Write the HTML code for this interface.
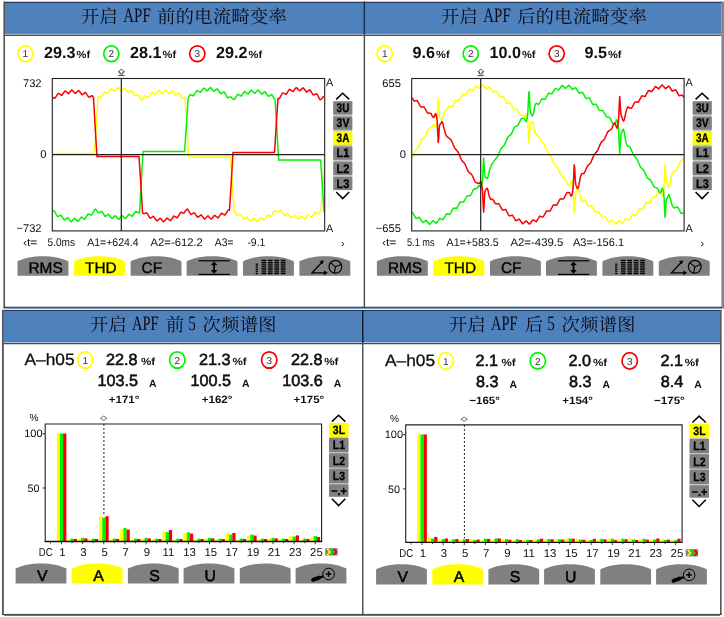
<!DOCTYPE html>
<html lang="zh-CN">
<head>
<meta charset="utf-8">
<title>APF 电流畸变率与频谱图</title>
<style>
html,body{margin:0;padding:0;background:#fff;}
body{width:724px;height:617px;overflow:hidden;font-family:"Liberation Sans", "Noto Sans CJK SC", sans-serif;}
svg{display:block;will-change:transform;-webkit-font-smoothing:antialiased;}
text{-webkit-font-smoothing:antialiased;}
</style>
</head>
<body>
<svg width="724" height="617" viewBox="0 0 724 617" font-family='"Liberation Sans", "Noto Sans CJK SC", sans-serif' text-rendering="geometricPrecision">
<defs>
<clipPath id="cbefore"><rect x="52.3" y="78.5" width="272.4" height="152.4"/></clipPath>
<clipPath id="cafter"><rect x="411.7" y="78.5" width="272.4" height="152.4"/></clipPath>
</defs>
<rect x="0" y="0" width="724" height="617" fill="#ffffff"/>
<rect x="5" y="2" width="716.5" height="32.3" fill="#4f81bd"/>
<line x1="4" y1="2.2" x2="722" y2="2.2" stroke="#1a2840" stroke-width="1.1"/>
<line x1="5" y1="34.4" x2="721.5" y2="34.4" stroke="#b9cde5" stroke-width="0.8"/>
<line x1="4" y1="35.3" x2="721.5" y2="35.3" stroke="#4a4a4a" stroke-width="1.2"/>
<rect x="3.4" y="1.5" width="1.6" height="307" fill="#555555"/>
<rect x="363.6" y="1.5" width="1.5" height="33" fill="#1f3252"/>
<rect x="363.6" y="34.5" width="1.5" height="273" fill="#555555"/>
<rect x="721.4" y="1.5" width="2.6" height="307" fill="#858585"/>
<line x1="4" y1="307.3" x2="722" y2="307.3" stroke="#16243c" stroke-width="1.3"/>
<line x1="5" y1="308.2" x2="722" y2="308.2" stroke="#4f81bd" stroke-width="1.2"/>
<rect x="3.5" y="310.6" width="716.5" height="32" fill="#4f81bd"/>
<line x1="2" y1="310.4" x2="721.5" y2="310.4" stroke="#1f2a3a" stroke-width="1"/>
<line x1="4" y1="342.7" x2="720" y2="342.7" stroke="#b9cde5" stroke-width="0.8"/>
<line x1="2" y1="343.7" x2="721.5" y2="343.7" stroke="#4a4a4a" stroke-width="1.2"/>
<rect x="2" y="310" width="1.8" height="305" fill="#555555"/>
<rect x="362" y="310" width="1.5" height="33" fill="#14202f"/>
<rect x="362" y="343" width="1.5" height="271" fill="#555555"/>
<rect x="720" y="310" width="1.6" height="305" fill="#555555"/>
<line x1="2" y1="614.4" x2="721.6" y2="614.4" stroke="#3c3c3c" stroke-width="1"/>
<line x1="3.8" y1="615.4" x2="720" y2="615.4" stroke="#3f68a0" stroke-width="1"/>
<text x="81" y="22.8" font-size="18.2" fill="#0a0a12" textLength="36.6" lengthAdjust="spacing" font-family='"Liberation Serif", "Noto Serif CJK SC", serif'>开启</text>
<text x="123.3" y="22.4" font-size="20.5" fill="#0a0a12" textLength="27.4" lengthAdjust="spacingAndGlyphs" font-family='"Liberation Serif", "Noto Serif CJK SC", serif'>APF</text>
<text x="157.2" y="22.8" font-size="18.2" fill="#0a0a12" textLength="129.6" lengthAdjust="spacing" font-family='"Liberation Serif", "Noto Serif CJK SC", serif'>前的电流畸变率</text>
<ellipse cx="25.4" cy="53.8" rx="7.6" ry="7.9" fill="#ffffff" stroke="#ffff00" stroke-width="1.7"/>
<text x="25.4" y="57.4" font-size="10" fill="#303030" text-anchor="middle">1</text>
<text x="75.6" y="58" font-size="16.2" fill="#101010" text-anchor="end" font-weight="bold">29.3</text>
<text x="76.6" y="58" font-size="10.5" fill="#101010" textLength="13.6" lengthAdjust="spacingAndGlyphs" font-weight="bold">%f</text>
<ellipse cx="111.35" cy="53.8" rx="7.6" ry="7.9" fill="#ffffff" stroke="#00f400" stroke-width="1.7"/>
<text x="111.35" y="57.4" font-size="10" fill="#303030" text-anchor="middle">2</text>
<text x="161.55" y="58" font-size="16.2" fill="#101010" text-anchor="end" font-weight="bold">28.1</text>
<text x="162.55" y="58" font-size="10.5" fill="#101010" textLength="13.6" lengthAdjust="spacingAndGlyphs" font-weight="bold">%f</text>
<ellipse cx="197.3" cy="53.8" rx="7.6" ry="7.9" fill="#ffffff" stroke="#fa0000" stroke-width="1.7"/>
<text x="197.3" y="57.4" font-size="10" fill="#303030" text-anchor="middle">3</text>
<text x="247.5" y="58" font-size="16.2" fill="#101010" text-anchor="end" font-weight="bold">29.2</text>
<text x="248.5" y="58" font-size="10.5" fill="#101010" textLength="13.6" lengthAdjust="spacingAndGlyphs" font-weight="bold">%f</text>
<g clip-path="url(#cbefore)">
<polyline points="53.6,153.6 54.1,153.6 54.6,153.6 55.1,153.6 55.6,153.6 56.1,153.6 56.6,153.6 57.1,153.6 57.6,153.6 58.1,153.6 58.6,153.6 59.1,153.6 59.6,153.6 60.1,153.6 60.6,153.6 61.1,153.6 61.6,153.6 62.1,153.6 62.6,153.6 63.1,153.6 63.6,153.6 64.1,153.6 64.6,153.6 65.1,153.6 65.6,153.6 66.1,153.6 66.6,153.6 67.1,153.6 67.6,153.6 68.1,153.6 68.6,153.6 69.1,153.6 69.6,153.6 70.1,153.6 70.6,153.6 71.1,153.6 71.6,153.6 72.1,153.6 72.6,153.6 73.1,153.6 73.6,153.6 74.1,153.6 74.6,153.6 75.1,153.6 75.6,153.6 76.1,153.6 76.6,153.6 77.1,153.6 77.6,153.6 78.1,153.6 78.6,153.6 79.1,153.6 79.6,153.6 80.1,153.6 80.6,153.6 81.1,153.6 81.6,153.6 82.1,153.6 82.6,153.6 83.1,153.6 83.6,153.6 84.1,153.6 84.6,153.6 85.1,153.6 85.6,153.6 86.1,153.6 86.6,153.6 87.1,153.6 87.6,153.6 88.1,153.6 88.6,153.6 89.1,153.6 89.6,153.6 90.1,153.6 90.6,153.6 91.1,153.6 91.6,153.6 92.1,153.6 92.6,153.6 93.1,153.6 93.6,153.6 94.1,153.6 94.6,153.6 95.1,146.0 95.6,138.1 96.1,130.0 96.6,121.8 97.1,113.3 97.6,104.8 98.1,97.0 98.6,97.1 99.1,97.2 99.6,97.3 100.1,97.5 100.6,97.6 101.1,97.3 101.6,96.4 102.1,95.5 102.6,94.7 103.1,93.8 103.6,93.0 104.1,92.2 104.6,92.1 105.1,92.3 105.6,92.6 106.1,92.8 106.6,93.1 107.1,93.4 107.6,93.7 108.1,93.0 108.6,92.3 109.1,91.5 109.6,90.8 110.1,90.1 110.6,89.4 111.1,88.8 111.6,89.1 112.1,89.5 112.6,89.9 113.1,90.3 113.6,90.7 114.1,91.1 114.6,91.2 115.1,90.6 115.6,90.0 116.1,89.4 116.6,88.8 117.1,88.2 117.6,87.7 118.1,87.6 118.6,88.1 119.1,88.6 119.6,89.2 120.1,89.7 120.6,90.3 121.1,90.8 121.6,90.7 122.1,90.2 122.6,89.8 123.1,89.3 123.6,88.9 124.1,88.4 124.6,88.0 125.1,88.5 125.6,89.2 126.1,89.9 126.6,90.5 127.1,91.2 127.6,91.9 128.1,92.6 128.6,92.2 129.1,91.9 129.6,91.6 130.1,91.3 130.6,91.0 131.1,90.7 131.6,90.7 132.1,91.5 132.6,92.3 133.1,93.1 133.6,93.9 134.1,94.7 134.6,95.5 135.1,95.8 135.6,95.6 136.1,95.4 136.6,95.2 137.1,95.1 137.6,94.9 138.1,94.7 138.6,95.3 139.1,96.2 139.6,97.1 140.1,98.1 140.6,99.0 141.1,99.8 141.6,100.5 142.1,100.1 142.6,99.5 143.1,98.8 143.6,98.0 144.1,97.2 144.6,96.3 145.1,95.6 145.6,95.8 146.1,96.1 146.6,96.4 147.1,96.6 147.6,96.9 148.1,97.2 148.6,97.2 149.1,96.4 149.6,95.7 150.1,94.9 150.6,94.2 151.1,93.4 151.6,92.7 152.1,92.5 152.6,92.8 153.1,93.2 153.6,93.5 154.1,93.9 154.6,94.3 155.1,94.6 155.6,94.3 156.1,93.6 156.6,93.0 157.1,92.3 157.6,91.7 158.1,91.1 158.6,90.4 159.1,90.7 159.6,91.2 160.1,91.6 160.6,92.1 161.1,92.6 161.6,93.1 162.1,93.5 162.6,92.9 163.1,92.3 163.6,91.8 164.1,91.3 164.6,90.7 165.1,90.2 165.6,90.0 166.1,90.5 166.6,91.1 167.1,91.7 167.6,92.2 168.1,92.8 168.6,93.4 169.1,93.5 169.6,93.1 170.1,92.6 170.6,92.2 171.1,91.8 171.6,91.3 172.1,90.9 172.6,91.3 173.1,91.9 173.6,92.6 174.1,93.3 174.6,94.0 175.1,94.6 175.6,95.3 176.1,95.1 176.6,94.8 177.1,94.4 177.6,94.1 178.1,93.8 178.6,93.5 179.1,93.2 179.6,94.0 180.1,94.8 180.6,95.5 181.1,96.3 181.6,97.1 182.1,97.9 182.6,98.4 183.1,98.1 183.6,97.9 184.1,97.6 184.6,97.4 185.1,97.2 185.6,105.4 186.1,114.1 186.6,123.1 187.1,131.9 187.6,140.5 188.1,148.9 188.6,157.1 189.1,157.1 189.6,157.1 190.1,157.1 190.6,157.1 191.1,157.1 191.6,157.1 192.1,157.1 192.6,157.1 193.1,157.1 193.6,157.1 194.1,157.1 194.6,157.1 195.1,157.1 195.6,157.1 196.1,157.1 196.6,157.1 197.1,157.1 197.6,157.1 198.1,157.1 198.6,157.1 199.1,157.1 199.6,157.1 200.1,157.1 200.6,157.1 201.1,157.1 201.6,157.1 202.1,157.1 202.6,157.1 203.1,157.1 203.6,157.1 204.1,157.1 204.6,157.1 205.1,157.1 205.6,157.1 206.1,157.1 206.6,157.1 207.1,157.1 207.6,157.1 208.1,157.1 208.6,157.1 209.1,157.1 209.6,157.1 210.1,157.1 210.6,157.1 211.1,157.1 211.6,157.1 212.1,157.1 212.6,157.1 213.1,157.1 213.6,157.1 214.1,157.1 214.6,157.1 215.1,157.1 215.6,157.1 216.1,157.1 216.6,157.1 217.1,157.1 217.6,157.1 218.1,157.1 218.6,157.1 219.1,157.1 219.6,157.1 220.1,157.1 220.6,157.1 221.1,157.1 221.6,157.1 222.1,157.1 222.6,157.1 223.1,157.1 223.6,157.1 224.1,157.1 224.6,157.1 225.1,157.1 225.6,157.1 226.1,157.1 226.6,157.1 227.1,157.1 227.6,157.1 228.1,157.1 228.6,157.1 229.1,157.1 229.6,157.1 230.1,157.1 230.6,157.1 231.1,164.8 231.6,172.3 232.1,179.8 232.6,187.2 233.1,194.6 233.6,202.0 234.1,210.2 234.6,211.2 235.1,212.1 235.6,213.0 236.1,213.9 236.6,214.8 237.1,215.2 237.6,215.0 238.1,214.8 238.6,214.6 239.1,214.4 239.6,214.2 240.1,213.9 240.6,214.4 241.1,215.2 241.6,216.0 242.1,216.8 242.6,217.6 243.1,218.4 243.6,219.1 244.1,219.0 244.6,218.7 245.1,218.3 245.6,218.0 246.1,217.7 246.6,217.3 247.1,217.0 247.6,217.7 248.1,218.4 248.6,219.1 249.1,219.7 249.6,220.4 250.1,221.0 250.6,221.3 251.1,220.9 251.6,220.4 252.1,220.0 252.6,219.5 253.1,219.0 253.6,218.5 254.1,218.5 254.6,219.1 255.1,219.6 255.6,220.1 256.1,220.6 256.6,221.1 257.1,221.6 257.6,221.4 258.1,220.8 258.6,220.2 259.1,219.6 259.6,218.9 260.1,218.3 260.6,217.6 261.1,217.9 261.6,218.3 262.1,218.7 262.6,219.1 263.1,219.4 263.6,219.8 264.1,220.0 264.6,219.3 265.1,218.6 265.6,217.8 266.1,217.1 266.6,216.3 267.1,215.6 267.6,215.1 268.1,215.3 268.6,215.6 269.1,215.8 269.6,216.1 270.1,216.3 270.6,216.5 271.1,216.3 271.6,215.4 272.1,214.5 272.6,213.7 273.1,212.8 273.6,211.9 274.1,211.0 274.6,210.8 275.1,210.9 275.6,211.1 276.1,211.2 276.6,211.4 277.1,211.7 277.6,212.2 278.1,211.8 278.6,211.4 279.1,211.1 279.6,210.9 280.1,210.7 280.6,210.4 281.1,210.3 281.6,211.1 282.1,211.9 282.6,212.7 283.1,213.5 283.6,214.2 284.1,215.0 284.6,215.5 285.1,215.2 285.6,214.9 286.1,214.6 286.6,214.2 287.1,213.9 287.6,213.6 288.1,213.7 288.6,214.5 289.1,215.2 289.6,215.9 290.1,216.5 290.6,217.2 291.1,217.9 291.6,217.9 292.1,217.5 292.6,217.0 293.1,216.6 293.6,216.2 294.1,215.8 294.6,215.4 295.1,215.8 295.6,216.4 296.1,217.0 296.6,217.6 297.1,218.2 297.6,218.8 298.1,219.3 298.6,218.8 299.1,218.3 299.6,217.7 300.1,217.2 300.6,216.7 301.1,216.1 301.6,215.9 302.1,216.4 302.6,216.9 303.1,217.4 303.6,217.9 304.1,218.3 304.6,218.8 305.1,218.7 305.6,218.1 306.1,217.5 306.6,216.9 307.1,216.2 307.6,215.6 308.1,214.9 308.6,215.0 309.1,215.4 309.6,215.8 310.1,216.1 310.6,216.5 311.1,216.9 311.6,217.2 312.1,216.6 312.6,215.9 313.1,215.2 313.6,214.5 314.1,213.7 314.6,213.0 315.1,212.3 315.6,212.6 316.1,212.9 316.6,213.2 317.1,213.5 317.6,213.7 318.1,214.0 318.6,214.0 319.1,213.2 319.6,212.4 320.1,211.5 320.6,210.7 321.1,209.8 321.6,201.2 322.1,193.1 322.6,185.4 323.1,177.6 323.6,169.7 324.1,161.7 324.6,153.6 325.1,153.6" fill="none" stroke="#ffff00" stroke-width="1.5" stroke-linejoin="round"/>
<polyline points="53.1,211.0 53.6,210.9 54.1,210.7 54.6,211.6 55.1,212.5 55.6,213.4 56.1,214.3 56.6,215.1 57.1,216.0 57.6,216.6 58.1,216.4 58.6,216.2 59.1,216.0 59.6,215.7 60.1,215.5 60.6,215.2 61.1,215.3 61.6,216.1 62.1,216.8 62.6,217.6 63.1,218.3 63.6,219.1 64.1,219.8 64.6,219.9 65.1,219.6 65.6,219.2 66.1,218.8 66.6,218.5 67.1,218.1 67.6,217.7 68.1,218.1 68.6,218.7 69.1,219.3 69.6,220.0 70.1,220.6 70.6,221.2 71.1,221.7 71.6,221.3 72.1,220.8 72.6,220.3 73.1,219.8 73.6,219.3 74.1,218.7 74.6,218.3 75.1,218.8 75.6,219.3 76.1,219.8 76.6,220.3 77.1,220.7 77.6,221.2 78.1,221.2 78.6,220.6 79.1,219.9 79.6,219.3 80.1,218.6 80.6,218.0 81.1,217.3 81.6,217.2 82.1,217.5 82.6,217.9 83.1,218.2 83.6,218.5 84.1,218.8 84.6,219.2 85.1,218.6 85.6,217.9 86.1,217.1 86.6,216.3 87.1,215.5 87.6,214.7 88.1,213.9 88.6,214.1 89.1,214.3 89.6,214.5 90.1,214.7 90.6,214.9 91.1,215.1 91.6,215.1 92.1,214.2 92.6,213.3 93.1,212.4 93.6,211.5 94.1,210.6 94.6,209.6 95.1,209.1 95.6,209.4 96.1,209.9 96.6,210.4 97.1,211.0 97.6,211.8 98.1,212.6 98.6,212.9 99.1,212.7 99.6,212.4 100.1,212.2 100.6,211.9 101.1,211.7 101.6,211.4 102.1,211.9 102.6,212.7 103.1,213.5 103.6,214.2 104.1,215.0 104.6,215.7 105.1,216.5 105.6,216.2 106.1,215.8 106.6,215.5 107.1,215.1 107.6,214.8 108.1,214.4 108.6,214.2 109.1,214.9 109.6,215.6 110.1,216.3 110.6,216.9 111.1,217.6 111.6,218.2 112.1,218.5 112.6,218.1 113.1,217.6 113.6,217.2 114.1,216.7 114.6,216.3 115.1,215.8 115.6,215.9 116.1,216.5 116.6,217.1 117.1,217.6 117.6,218.2 118.1,218.7 118.6,219.3 119.1,219.0 119.6,218.4 120.1,217.9 120.6,217.3 121.1,216.8 121.6,216.2 122.1,215.6 122.6,216.0 123.1,216.5 123.6,217.0 124.1,217.4 124.6,217.8 125.1,218.3 125.6,218.5 126.1,217.9 126.6,217.2 127.1,216.6 127.6,215.9 128.1,215.2 128.6,214.5 129.1,214.2 129.6,214.6 130.1,215.0 130.6,215.3 131.1,215.6 131.6,216.0 132.1,216.3 132.6,216.0 133.1,215.3 133.6,214.5 134.1,213.8 134.6,213.0 135.1,212.3 135.6,211.5 136.1,211.5 136.6,211.8 137.1,212.0 137.6,212.3 138.1,212.5 138.6,212.7 139.1,213.0 139.6,212.2 140.1,202.9 140.6,193.9 141.1,185.0 141.6,176.4 142.1,167.9 142.6,159.7 143.1,151.6 143.6,151.6 144.1,151.6 144.6,151.6 145.1,151.6 145.6,151.6 146.1,151.6 146.6,151.6 147.1,151.6 147.6,151.6 148.1,151.6 148.6,151.6 149.1,151.6 149.6,151.6 150.1,151.6 150.6,151.6 151.1,151.6 151.6,151.6 152.1,151.6 152.6,151.6 153.1,151.6 153.6,151.6 154.1,151.6 154.6,151.6 155.1,151.6 155.6,151.6 156.1,151.6 156.6,151.6 157.1,151.6 157.6,151.6 158.1,151.6 158.6,151.6 159.1,151.6 159.6,151.6 160.1,151.6 160.6,151.6 161.1,151.6 161.6,151.6 162.1,151.6 162.6,151.6 163.1,151.6 163.6,151.6 164.1,151.6 164.6,151.6 165.1,151.6 165.6,151.6 166.1,151.6 166.6,151.6 167.1,151.6 167.6,151.6 168.1,151.6 168.6,151.6 169.1,151.6 169.6,151.6 170.1,151.6 170.6,151.6 171.1,151.6 171.6,151.6 172.1,151.6 172.6,151.6 173.1,151.6 173.6,151.6 174.1,151.6 174.6,151.6 175.1,151.6 175.6,151.6 176.1,151.6 176.6,151.6 177.1,151.6 177.6,151.6 178.1,151.6 178.6,151.6 179.1,151.6 179.6,151.6 180.1,151.6 180.6,151.6 181.1,151.6 181.6,151.6 182.1,151.6 182.6,151.6 183.1,151.6 183.6,151.6 184.1,151.6 184.6,151.6 185.1,144.2 185.6,136.8 186.1,129.5 186.6,122.3 187.1,114.7 187.6,106.6 188.1,98.4 188.6,97.4 189.1,96.5 189.6,95.6 190.1,94.7 190.6,94.8 191.1,95.0 191.6,95.1 192.1,95.3 192.6,95.5 193.1,95.7 193.6,95.8 194.1,95.0 194.6,94.1 195.1,93.3 195.6,92.5 196.1,91.7 196.6,90.9 197.1,90.5 197.6,90.8 198.1,91.1 198.6,91.4 199.1,91.8 199.6,92.1 200.1,92.4 200.6,92.2 201.1,91.5 201.6,90.8 202.1,90.1 202.6,89.4 203.1,88.8 203.6,88.1 204.1,88.3 204.6,88.7 205.1,89.1 205.6,89.6 206.1,90.0 206.6,90.5 207.1,91.0 207.6,90.5 208.1,89.9 208.6,89.4 209.1,88.8 209.6,88.3 210.1,87.8 210.6,87.5 211.1,88.0 211.6,88.6 212.1,89.2 212.6,89.8 213.1,90.4 213.6,91.0 214.1,91.3 214.6,90.8 215.1,90.4 215.6,90.0 216.1,89.6 216.6,89.3 217.1,88.9 217.6,89.1 218.1,89.8 218.6,90.6 219.1,91.3 219.6,92.0 220.1,92.8 220.6,93.5 221.1,93.5 221.6,93.2 222.1,92.9 222.6,92.7 223.1,92.4 223.6,92.2 224.1,91.9 224.6,92.7 225.1,93.6 225.6,94.4 226.1,95.3 226.6,96.1 227.1,97.0 227.6,97.7 228.1,97.6 228.6,97.4 229.1,97.3 229.6,97.1 230.1,97.0 230.6,96.9 231.1,97.0 231.6,97.7 232.1,98.2 232.6,98.7 233.1,99.1 233.6,99.3 234.1,99.5 234.6,99.1 235.1,98.3 235.6,97.5 236.1,96.7 236.6,95.9 237.1,95.1 237.6,94.3 238.1,94.3 238.6,94.6 239.1,94.9 239.6,95.2 240.1,95.5 240.6,95.9 241.1,96.2 241.6,95.5 242.1,94.8 242.6,94.1 243.1,93.4 243.6,92.7 244.1,92.0 244.6,91.4 245.1,91.8 245.6,92.2 246.1,92.6 246.6,93.0 247.1,93.4 247.6,93.8 248.1,93.9 248.6,93.2 249.1,92.6 249.6,92.0 250.1,91.4 250.6,90.8 251.1,90.2 251.6,90.2 252.1,90.7 252.6,91.2 253.1,91.7 253.6,92.2 254.1,92.8 254.6,93.3 255.1,93.0 255.6,92.5 256.1,92.0 256.6,91.5 257.1,91.0 257.6,90.5 258.1,90.1 258.6,90.6 259.1,91.2 259.6,91.8 260.1,92.4 260.6,93.1 261.1,93.7 261.6,94.2 262.1,93.8 262.6,93.4 263.1,93.0 263.6,92.6 264.1,92.2 264.6,91.8 265.1,91.8 265.6,92.5 266.1,93.2 266.6,94.0 267.1,94.7 267.6,95.4 268.1,96.1 268.6,96.3 269.1,96.0 269.6,95.7 270.1,95.4 270.6,95.1 271.1,94.8 271.6,94.5 272.1,95.1 272.6,95.9 273.1,96.7 273.6,97.5 274.1,98.3 274.6,99.1 275.1,100.0 275.6,108.3 276.1,116.7 276.6,125.1 277.1,133.7 277.6,142.4 278.1,151.2 278.6,160.1 279.1,160.1 279.6,160.1 280.1,160.1 280.6,160.1 281.1,160.1 281.6,160.1 282.1,160.1 282.6,160.1 283.1,160.1 283.6,160.1 284.1,160.1 284.6,160.1 285.1,160.1 285.6,160.1 286.1,160.1 286.6,160.1 287.1,160.1 287.6,160.1 288.1,160.1 288.6,160.1 289.1,160.1 289.6,160.1 290.1,160.1 290.6,160.1 291.1,160.1 291.6,160.1 292.1,160.1 292.6,160.1 293.1,160.1 293.6,160.1 294.1,160.1 294.6,160.1 295.1,160.1 295.6,160.1 296.1,160.1 296.6,160.1 297.1,160.1 297.6,160.1 298.1,160.1 298.6,160.1 299.1,160.1 299.6,160.1 300.1,160.1 300.6,160.1 301.1,160.1 301.6,160.1 302.1,160.1 302.6,160.1 303.1,160.1 303.6,160.1 304.1,160.1 304.6,160.1 305.1,160.1 305.6,160.1 306.1,160.1 306.6,160.1 307.1,160.1 307.6,160.1 308.1,160.1 308.6,160.1 309.1,160.1 309.6,160.1 310.1,160.1 310.6,160.1 311.1,160.1 311.6,160.1 312.1,160.1 312.6,160.1 313.1,160.1 313.6,160.1 314.1,160.1 314.6,160.1 315.1,160.1 315.6,160.1 316.1,160.1 316.6,160.1 317.1,160.1 317.6,160.1 318.1,160.1 318.6,160.1 319.1,160.1 319.6,160.1 320.1,160.1 320.6,160.1 321.1,167.2 321.6,174.6 322.1,182.2 322.6,190.0 323.1,197.4 323.6,204.6 324.1,211.7 324.6,211.6" fill="none" stroke="#00f400" stroke-width="1.5" stroke-linejoin="round"/>
<polyline points="52.5,97.3 53.0,97.5 53.5,97.7 54.0,98.0 54.5,98.2 55.0,98.2 55.5,97.4 56.0,96.6 56.5,95.9 57.0,95.1 57.5,94.3 58.0,93.6 58.5,93.3 59.0,93.6 59.5,93.9 60.0,94.3 60.5,94.6 61.0,94.9 61.5,95.3 62.0,95.0 62.5,94.3 63.0,93.6 63.5,92.9 64.0,92.2 64.5,91.6 65.0,90.9 65.5,91.1 66.0,91.6 66.5,92.0 67.0,92.4 67.5,92.8 68.0,93.3 68.5,93.7 69.0,93.1 69.5,92.5 70.0,91.9 70.5,91.4 71.0,90.8 71.5,90.2 72.0,90.0 72.5,90.5 73.0,91.0 73.5,91.5 74.0,92.1 74.5,92.6 75.0,93.2 75.5,93.3 76.0,92.8 76.5,92.3 77.0,91.9 77.5,91.4 78.0,91.0 78.5,90.5 79.0,90.8 79.5,91.4 80.0,92.0 80.5,92.7 81.0,93.3 81.5,94.0 82.0,94.7 82.5,94.5 83.0,94.1 83.5,93.7 84.0,93.4 84.5,93.0 85.0,92.7 85.5,92.4 86.0,93.1 86.5,93.8 87.0,94.6 87.5,95.3 88.0,96.1 88.5,96.8 89.0,97.3 89.5,97.1 90.0,96.8 90.5,96.5 91.0,96.2 91.5,96.0 92.0,95.7 92.5,96.0 93.0,96.8 93.5,97.6 94.0,106.7 94.5,115.5 95.0,124.1 95.5,132.5 96.0,140.6 96.5,148.5 97.0,156.6 97.5,156.6 98.0,156.6 98.5,156.6 99.0,156.6 99.5,156.6 100.0,156.6 100.5,156.6 101.0,156.6 101.5,156.6 102.0,156.6 102.5,156.6 103.0,156.6 103.5,156.6 104.0,156.6 104.5,156.6 105.0,156.6 105.5,156.6 106.0,156.6 106.5,156.6 107.0,156.6 107.5,156.6 108.0,156.6 108.5,156.6 109.0,156.6 109.5,156.6 110.0,156.6 110.5,156.6 111.0,156.6 111.5,156.6 112.0,156.6 112.5,156.6 113.0,156.6 113.5,156.6 114.0,156.6 114.5,156.6 115.0,156.6 115.5,156.6 116.0,156.6 116.5,156.6 117.0,156.6 117.5,156.6 118.0,156.6 118.5,156.6 119.0,156.6 119.5,156.6 120.0,156.6 120.5,156.6 121.0,156.6 121.5,156.6 122.0,156.6 122.5,156.6 123.0,156.6 123.5,156.6 124.0,156.6 124.5,156.6 125.0,156.6 125.5,156.6 126.0,156.6 126.5,156.6 127.0,156.6 127.5,156.6 128.0,156.6 128.5,156.6 129.0,156.6 129.5,156.6 130.0,156.6 130.5,156.6 131.0,156.6 131.5,156.6 132.0,156.6 132.5,156.6 133.0,156.6 133.5,156.6 134.0,156.6 134.5,156.6 135.0,156.6 135.5,156.6 136.0,156.6 136.5,156.6 137.0,156.6 137.5,156.6 138.0,156.6 138.5,156.6 139.0,156.6 139.5,164.0 140.0,171.4 140.5,179.2 141.0,187.2 141.5,195.3 142.0,203.7 142.5,212.3 143.0,213.3 143.5,213.7 144.0,213.6 144.5,213.4 145.0,213.3 145.5,213.1 146.0,212.9 146.5,212.7 147.0,213.2 147.5,214.0 148.0,214.9 148.5,215.7 149.0,216.5 149.5,217.3 150.0,218.1 150.5,218.0 151.0,217.7 151.5,217.5 152.0,217.2 152.5,216.9 153.0,216.5 153.5,216.3 154.0,217.0 154.5,217.7 155.0,218.4 155.5,219.1 156.0,219.8 156.5,220.5 157.0,220.9 157.5,220.5 158.0,220.1 158.5,219.7 159.0,219.2 159.5,218.8 160.0,218.3 160.5,218.3 161.0,218.9 161.5,219.5 162.0,220.1 162.5,220.6 163.0,221.2 163.5,221.7 164.0,221.5 164.5,221.0 165.0,220.4 165.5,219.8 166.0,219.3 166.5,218.7 167.0,218.1 167.5,218.3 168.0,218.8 168.5,219.2 169.0,219.6 169.5,220.0 170.0,220.4 170.5,220.8 171.0,220.1 171.5,219.4 172.0,218.7 172.5,218.0 173.0,217.2 173.5,216.5 174.0,216.0 174.5,216.3 175.0,216.6 175.5,216.9 176.0,217.2 176.5,217.5 177.0,217.7 177.5,217.5 178.0,216.7 178.5,215.9 179.0,215.0 179.5,214.2 180.0,213.3 180.5,212.5 181.0,212.3 181.5,212.5 182.0,212.6 182.5,212.8 183.0,212.9 183.5,213.1 184.0,213.2 184.5,212.4 185.0,211.5 185.5,210.8 186.0,210.2 186.5,209.7 187.0,209.2 187.5,209.0 188.0,209.9 188.5,210.7 189.0,211.5 189.5,212.3 190.0,213.2 190.5,214.0 191.0,214.5 191.5,214.2 192.0,213.9 192.5,213.7 193.0,213.4 193.5,213.1 194.0,212.8 194.5,212.9 195.0,213.6 195.5,214.4 196.0,215.1 196.5,215.8 197.0,216.5 197.5,217.2 198.0,217.3 198.5,216.9 199.0,216.5 199.5,216.1 200.0,215.7 200.5,215.3 201.0,214.9 201.5,215.4 202.0,216.1 202.5,216.7 203.0,217.3 203.5,217.9 204.0,218.5 204.5,219.1 205.0,218.6 205.5,218.2 206.0,217.7 206.5,217.2 207.0,216.7 207.5,216.2 208.0,215.9 208.5,216.4 209.0,217.0 209.5,217.5 210.0,218.0 210.5,218.5 211.0,219.0 211.5,219.0 212.0,218.4 212.5,217.8 213.0,217.2 213.5,216.6 214.0,216.0 214.5,215.4 215.0,215.4 215.5,215.9 216.0,216.3 216.5,216.7 217.0,217.1 217.5,217.5 218.0,217.9 218.5,217.4 219.0,216.7 219.5,216.0 220.0,215.3 220.5,214.6 221.0,213.8 221.5,213.2 222.0,213.5 222.5,213.8 223.0,214.1 223.5,214.4 224.0,214.7 224.5,215.0 225.0,215.1 225.5,214.3 226.0,213.5 226.5,212.7 227.0,211.9 227.5,211.1 228.0,210.3 228.5,209.9 229.0,210.1 229.5,210.3 230.0,202.4 230.5,194.3 231.0,186.1 231.5,177.9 232.0,169.3 232.5,160.7 233.0,152.4 233.5,152.4 234.0,152.4 234.5,152.4 235.0,152.4 235.5,152.4 236.0,152.4 236.5,152.4 237.0,152.4 237.5,152.4 238.0,152.4 238.5,152.4 239.0,152.4 239.5,152.4 240.0,152.4 240.5,152.4 241.0,152.4 241.5,152.4 242.0,152.4 242.5,152.4 243.0,152.4 243.5,152.4 244.0,152.4 244.5,152.4 245.0,152.4 245.5,152.4 246.0,152.4 246.5,152.4 247.0,152.4 247.5,152.4 248.0,152.4 248.5,152.4 249.0,152.4 249.5,152.4 250.0,152.4 250.5,152.4 251.0,152.4 251.5,152.4 252.0,152.4 252.5,152.4 253.0,152.4 253.5,152.4 254.0,152.4 254.5,152.4 255.0,152.4 255.5,152.4 256.0,152.4 256.5,152.4 257.0,152.4 257.5,152.4 258.0,152.4 258.5,152.4 259.0,152.4 259.5,152.4 260.0,152.4 260.5,152.4 261.0,152.4 261.5,152.4 262.0,152.4 262.5,152.4 263.0,152.4 263.5,152.4 264.0,152.4 264.5,152.4 265.0,152.4 265.5,152.4 266.0,152.4 266.5,152.4 267.0,152.4 267.5,152.4 268.0,152.4 268.5,152.4 269.0,152.4 269.5,152.4 270.0,152.4 270.5,152.4 271.0,152.4 271.5,152.4 272.0,152.4 272.5,152.4 273.0,152.4 273.5,152.4 274.0,152.4 274.5,152.4 275.0,144.7 275.5,136.8 276.0,128.8 276.5,121.1 277.0,113.4 277.5,105.9 278.0,98.5 278.5,98.6 279.0,98.7 279.5,98.4 280.0,97.5 280.5,96.6 281.0,95.7 281.5,94.8 282.0,93.9 282.5,93.1 283.0,92.9 283.5,93.1 284.0,93.4 284.5,93.6 285.0,93.8 285.5,94.1 286.0,94.4 286.5,93.7 287.0,93.0 287.5,92.2 288.0,91.4 288.5,90.7 289.0,89.9 289.5,89.3 290.0,89.6 290.5,89.9 291.0,90.3 291.5,90.7 292.0,91.0 292.5,91.4 293.0,91.6 293.5,90.9 294.0,90.3 294.5,89.6 295.0,89.0 295.5,88.4 296.0,87.8 296.5,87.7 297.0,88.2 297.5,88.7 298.0,89.2 298.5,89.7 299.0,90.2 299.5,90.7 300.0,90.6 300.5,90.1 301.0,89.6 301.5,89.1 302.0,88.7 302.5,88.2 303.0,87.7 303.5,88.2 304.0,88.8 304.5,89.5 305.0,90.1 305.5,90.8 306.0,91.4 306.5,92.1 307.0,91.7 307.5,91.4 308.0,91.0 308.5,90.7 309.0,90.3 309.5,90.0 310.0,90.0 310.5,90.7 311.0,91.5 311.5,92.3 312.0,93.1 312.5,93.9 313.0,94.7 313.5,95.0 314.0,94.8 314.5,94.5 315.0,94.3 315.5,94.1 316.0,93.9 316.5,93.7 317.0,94.2 317.5,95.1 318.0,96.0 318.5,96.9 319.0,97.8 319.5,98.8 320.0,99.7 320.5,99.7 321.0,99.4 321.5,99.0 322.0,98.6 322.5,97.9 323.0,97.2 323.5,96.5 324.0,96.7" fill="none" stroke="#fa0000" stroke-width="1.5" stroke-linejoin="round"/>
</g>
<line x1="52.3" y1="154.6" x2="324.7" y2="154.6" stroke="#202020" stroke-width="1.1"/>
<line x1="121.3" y1="78.5" x2="121.3" y2="230.9" stroke="#202020" stroke-width="1.2"/>
<rect x="52.3" y="78.5" width="272.4" height="152.4" fill="none" stroke="#202020" stroke-width="1.1"/>
<path d="M121.4 69 l3 3 h-1.6 v2 h-2.8 v-2 h-1.6 Z M118.1 75.6 h6.6" fill="none" stroke="#202020" stroke-width="0.8"/>
<text x="41.6" y="87.2" font-size="11.2" fill="#101010" text-anchor="end">732</text>
<text x="46.6" y="157.8" font-size="11.2" fill="#101010" text-anchor="end">0</text>
<text x="41.6" y="231.8" font-size="11.2" fill="#101010" text-anchor="end">−732</text>
<text x="326" y="86.4" font-size="10.8" fill="#101010">A</text>
<text x="326" y="231.6" font-size="10.8" fill="#101010">A</text>
<path d="M336.2 99.4 L342.7 93.2 L349.2 99.4" fill="none" stroke="#000000" stroke-width="1.5" stroke-linejoin="miter"/>
<rect x="333.6" y="101.7" width="18.4" height="87.9" fill="#c4c4c4"/>
<rect x="333.2" y="101.2" width="19.2" height="13.3" fill="#808080"/>
<text x="343" y="112.15" font-size="12.4" fill="#000000" text-anchor="middle" textLength="12.8" lengthAdjust="spacingAndGlyphs" font-weight="bold" stroke="#000" stroke-width="0.3">3U</text>
<rect x="333.2" y="116.5" width="19.2" height="13.3" fill="#808080"/>
<text x="343" y="127.45" font-size="12.4" fill="#000000" text-anchor="middle" textLength="12.8" lengthAdjust="spacingAndGlyphs" font-weight="bold" stroke="#000" stroke-width="0.3">3V</text>
<rect x="333.2" y="131.4" width="19.2" height="13.3" fill="#ffff00"/>
<text x="343" y="142.35" font-size="12.4" fill="#000000" text-anchor="middle" textLength="12.8" lengthAdjust="spacingAndGlyphs" font-weight="bold" stroke="#000" stroke-width="0.3">3A</text>
<rect x="333.2" y="146.5" width="19.2" height="13.3" fill="#808080"/>
<text x="343" y="157.45" font-size="12.4" fill="#000000" text-anchor="middle" textLength="12.8" lengthAdjust="spacingAndGlyphs" font-weight="bold" stroke="#000" stroke-width="0.3">L1</text>
<rect x="333.2" y="161.7" width="19.2" height="13.3" fill="#808080"/>
<text x="343" y="172.65" font-size="12.4" fill="#000000" text-anchor="middle" textLength="12.8" lengthAdjust="spacingAndGlyphs" font-weight="bold" stroke="#000" stroke-width="0.3">L2</text>
<rect x="333.2" y="176.8" width="19.2" height="13.3" fill="#808080"/>
<text x="343" y="187.75" font-size="12.4" fill="#000000" text-anchor="middle" textLength="12.8" lengthAdjust="spacingAndGlyphs" font-weight="bold" stroke="#000" stroke-width="0.3">L3</text>
<path d="M336.2 192 L342.7 198.6 L349.2 192" fill="none" stroke="#000000" stroke-width="1.5" stroke-linejoin="miter"/>
<text x="23" y="246.4" font-size="11" fill="#101010" textLength="14.4" lengthAdjust="spacingAndGlyphs">‹t=</text>
<text x="47.6" y="246.4" font-size="11" fill="#101010" textLength="27.4" lengthAdjust="spacingAndGlyphs">5.0ms</text>
<text x="87.2" y="246.4" font-size="11" fill="#101010" textLength="51.4" lengthAdjust="spacingAndGlyphs">A1=+624.4</text>
<text x="150.6" y="246.4" font-size="11" fill="#101010" textLength="52.2" lengthAdjust="spacingAndGlyphs">A2=-612.2</text>
<text x="214.8" y="246.4" font-size="11" fill="#101010" textLength="18.6" lengthAdjust="spacingAndGlyphs">A3=</text>
<text x="247.4" y="246.4" font-size="11" fill="#101010" textLength="18" lengthAdjust="spacingAndGlyphs">-9.1</text>
<text x="341" y="246.6" font-size="11" fill="#101010">›</text>
<path d="M17.5 275.8 V261.4 C29.72 254.53 56.18 254.53 68.4 261.4 V275.8 Z" fill="#808080" stroke="none" stroke-width="1"/>
<text x="28.5" y="273" font-size="15.4" fill="#000" stroke="#000" stroke-width="0.35">RMS</text>
<path d="M74 275.8 V261.4 C86.22 254.53 112.68 254.53 124.9 261.4 V275.8 Z" fill="#ffff00" stroke="none" stroke-width="1"/>
<text x="85" y="273" font-size="15.4" fill="#000" stroke="#000" stroke-width="0.35">THD</text>
<path d="M130.6 275.8 V261.4 C142.82 254.53 169.28 254.53 181.5 261.4 V275.8 Z" fill="#808080" stroke="none" stroke-width="1"/>
<text x="141.6" y="273" font-size="15.4" fill="#000" stroke="#000" stroke-width="0.35">CF</text>
<path d="M186.6 275.8 V261.4 C198.82 254.53 225.28 254.53 237.5 261.4 V275.8 Z" fill="#808080" stroke="none" stroke-width="1"/>
<path d="M243 275.8 V261.4 C255.22 254.53 281.68 254.53 293.9 261.4 V275.8 Z" fill="#808080" stroke="none" stroke-width="1"/>
<path d="M299.4 275.8 V261.4 C311.62 254.53 338.08 254.53 350.3 261.4 V275.8 Z" fill="#808080" stroke="none" stroke-width="1"/>
<line x1="198.6" y1="260.8" x2="229.8" y2="260.8" stroke="#000" stroke-width="1.2"/>
<line x1="198.6" y1="274.4" x2="229.8" y2="274.4" stroke="#000" stroke-width="1.2"/>
<line x1="214.1" y1="263.4" x2="214.1" y2="271.8" stroke="#000" stroke-width="1.8"/>
<path d="M214.1 261.4 l-3.3 3.8 h6.6 Z" fill="#000" stroke="none" stroke-width="1"/>
<path d="M214.1 273.8 l-3.3 -3.8 h6.6 Z" fill="#000" stroke="none" stroke-width="1"/>
<line x1="256.8" y1="263.4" x2="256.8" y2="274.8" stroke="#000" stroke-width="2.2" stroke-dasharray="1.25 0.65"/>
<line x1="263.9" y1="259.8" x2="263.9" y2="274.8" stroke="#000" stroke-width="4.7" stroke-dasharray="1.25 0.65"/>
<line x1="270.3" y1="259.8" x2="270.3" y2="274.8" stroke="#000" stroke-width="4.7" stroke-dasharray="1.25 0.65"/>
<line x1="276.7" y1="259.8" x2="276.7" y2="274.8" stroke="#000" stroke-width="4.7" stroke-dasharray="1.25 0.65"/>
<line x1="283.1" y1="259.8" x2="283.1" y2="274.8" stroke="#000" stroke-width="4.7" stroke-dasharray="1.25 0.65"/>
<path d="M322 262.2 L312 272.8 L325.4 272.8" fill="none" stroke="#000" stroke-width="1.3"/>
<path d="M327.8 272.8 l-3.8 -2.4 v4.8 Z" fill="#000" stroke="none" stroke-width="1"/>
<path d="M323.8 260.3 l-4.4 0.9 l3.2 3.0 Z" fill="#000" stroke="none" stroke-width="1"/>
<circle cx="335.4" cy="266.8" r="6.4" fill="none" stroke="#000" stroke-width="1.2"/>
<line x1="335.4" y1="266.8" x2="341.4" y2="264.6" stroke="#000" stroke-width="1.1"/>
<line x1="335.4" y1="266.8" x2="330.5" y2="262.7" stroke="#000" stroke-width="1.1"/>
<line x1="335.4" y1="266.8" x2="334.3" y2="273.1" stroke="#000" stroke-width="1.1"/>
<text x="441" y="22.8" font-size="18.2" fill="#0a0a12" textLength="36.6" lengthAdjust="spacing" font-family='"Liberation Serif", "Noto Serif CJK SC", serif'>开启</text>
<text x="483.3" y="22.4" font-size="20.5" fill="#0a0a12" textLength="27.4" lengthAdjust="spacingAndGlyphs" font-family='"Liberation Serif", "Noto Serif CJK SC", serif'>APF</text>
<text x="517.2" y="22.8" font-size="18.2" fill="#0a0a12" textLength="129.6" lengthAdjust="spacing" font-family='"Liberation Serif", "Noto Serif CJK SC", serif'>后的电流畸变率</text>
<ellipse cx="384.8" cy="53.8" rx="7.6" ry="7.9" fill="#ffffff" stroke="#ffff00" stroke-width="1.7"/>
<text x="384.8" y="57.4" font-size="10" fill="#303030" text-anchor="middle">1</text>
<text x="435" y="58" font-size="16.2" fill="#101010" text-anchor="end" font-weight="bold">9.6</text>
<text x="436" y="58" font-size="10.5" fill="#101010" textLength="13.6" lengthAdjust="spacingAndGlyphs" font-weight="bold">%f</text>
<ellipse cx="470.75" cy="53.8" rx="7.6" ry="7.9" fill="#ffffff" stroke="#00f400" stroke-width="1.7"/>
<text x="470.75" y="57.4" font-size="10" fill="#303030" text-anchor="middle">2</text>
<text x="520.95" y="58" font-size="16.2" fill="#101010" text-anchor="end" font-weight="bold">10.0</text>
<text x="521.95" y="58" font-size="10.5" fill="#101010" textLength="13.6" lengthAdjust="spacingAndGlyphs" font-weight="bold">%f</text>
<ellipse cx="556.7" cy="53.8" rx="7.6" ry="7.9" fill="#ffffff" stroke="#fa0000" stroke-width="1.7"/>
<text x="556.7" y="57.4" font-size="10" fill="#303030" text-anchor="middle">3</text>
<text x="606.9" y="58" font-size="16.2" fill="#101010" text-anchor="end" font-weight="bold">9.5</text>
<text x="607.9" y="58" font-size="10.5" fill="#101010" textLength="13.6" lengthAdjust="spacingAndGlyphs" font-weight="bold">%f</text>
<g clip-path="url(#cafter)">
<polyline points="412.2,157.8 412.7,156.7 413.2,155.5 413.7,154.3 414.2,153.1 414.7,152.0 415.2,151.1 415.7,150.5 416.2,150.0 416.7,149.4 417.2,148.8 417.7,148.3 418.2,147.7 418.7,146.7 419.2,145.6 419.7,144.4 420.2,143.2 420.7,142.1 421.2,140.9 421.7,139.7 422.2,139.2 422.7,138.7 423.2,138.3 423.7,137.8 424.2,137.4 424.7,137.0 425.2,136.5 425.7,135.4 426.2,134.2 426.7,133.1 427.2,132.0 427.7,131.0 428.2,129.9 428.7,129.1 429.2,128.7 429.7,128.4 430.2,128.1 430.7,127.8 431.2,127.6 431.7,127.3 432.2,126.6 432.7,125.7 433.2,125.0 433.7,124.6 434.2,125.0 434.7,125.9 435.2,126.6 435.7,126.7 436.2,125.5 436.7,123.2 437.2,119.0 437.7,109.0 438.2,98.6 438.7,103.4 439.2,113.7 439.7,117.6 440.2,118.2 440.7,118.7 441.2,119.5 441.7,119.9 442.2,119.5 442.7,118.6 443.2,116.9 443.7,115.0 444.2,113.4 444.7,112.2 445.2,111.3 445.7,110.6 446.2,109.7 446.7,109.1 447.2,108.7 447.7,108.3 448.2,107.6 448.7,106.9 449.2,106.5 449.7,106.6 450.2,106.6 450.7,106.6 451.2,106.6 451.7,106.7 452.2,106.7 452.7,106.0 453.2,105.1 453.7,104.1 454.2,103.2 454.7,102.3 455.2,101.3 455.7,100.4 456.2,100.4 456.7,100.4 457.2,100.5 457.7,100.5 458.2,100.6 458.7,100.6 459.2,100.5 459.7,99.6 460.2,98.7 460.7,97.7 461.2,96.8 461.7,95.9 462.2,94.9 462.7,94.4 463.2,94.5 463.7,94.6 464.2,94.7 464.7,94.8 465.2,94.9 465.7,95.0 466.2,94.6 466.7,93.7 467.2,92.8 467.7,91.9 468.2,91.1 468.7,90.2 469.2,89.4 469.7,89.3 470.2,89.5 470.7,89.7 471.2,90.0 471.7,90.2 472.2,90.4 472.7,90.7 473.2,90.0 473.7,89.2 474.2,88.5 474.7,87.7 475.2,87.0 475.7,86.3 476.2,85.8 476.7,86.2 477.2,86.5 477.7,86.9 478.2,87.4 478.7,87.8 479.2,88.3 479.7,88.3 480.2,87.8 480.7,87.2 481.2,86.6 481.7,86.1 482.2,85.6 482.7,85.1 483.2,85.2 483.7,85.8 484.2,86.4 484.7,87.0 485.2,87.6 485.7,88.3 486.2,89.0 486.7,88.8 487.2,88.5 487.7,88.1 488.2,87.8 488.7,87.4 489.2,87.1 489.7,86.8 490.2,87.6 490.7,88.4 491.2,89.1 491.7,89.9 492.2,90.8 492.7,91.6 493.2,92.2 493.7,92.0 494.2,91.8 494.7,91.7 495.2,91.5 495.7,91.3 496.2,91.2 496.7,91.4 497.2,92.3 497.7,93.2 498.2,94.1 498.7,95.0 499.2,95.9 499.7,96.8 500.2,97.2 500.7,97.1 501.2,97.0 501.7,96.9 502.2,96.9 502.7,96.8 503.2,96.7 503.7,97.4 504.2,98.4 504.7,99.3 505.2,100.2 505.7,101.2 506.2,102.1 506.7,103.0 507.2,103.0 507.7,103.0 508.2,103.0 508.7,102.9 509.2,102.9 509.7,102.9 510.2,103.0 510.7,103.9 511.2,104.9 511.7,105.8 512.2,106.7 512.7,107.6 513.2,108.5 513.7,109.1 514.2,109.1 514.7,109.1 515.2,109.1 515.7,109.1 516.2,109.1 516.7,109.1 517.2,109.6 517.7,110.6 518.2,111.5 518.7,112.4 519.2,113.3 519.7,114.2 520.2,115.2 520.7,115.4 521.2,115.5 521.7,115.5 522.2,115.6 522.7,115.7 523.2,115.7 523.7,115.6 524.2,116.1 524.7,116.0 525.2,115.2 525.7,114.2 526.2,114.1 526.7,115.6 527.2,118.2 527.7,121.2 528.2,128.6 528.7,140.9 529.2,143.0 529.7,132.2 530.2,124.8 530.7,123.0 531.2,122.7 531.7,122.1 532.2,121.5 532.7,121.8 533.2,123.2 533.7,125.7 534.2,128.2 534.7,130.2 535.2,131.9 535.7,133.2 536.2,134.2 536.7,134.7 537.2,134.9 537.7,135.3 538.2,135.9 538.7,136.7 539.2,137.6 539.7,138.6 540.2,139.7 540.7,140.9 541.2,141.4 541.7,141.8 542.2,142.3 542.7,142.8 543.2,143.3 543.7,143.9 544.2,144.5 544.7,145.7 545.2,146.9 545.7,148.1 546.2,149.2 546.7,150.4 547.2,151.6 547.7,152.5 548.2,153.1 548.7,153.7 549.2,154.3 549.7,154.8 550.2,155.4 550.7,156.0 551.2,156.9 551.7,158.1 552.2,159.2 552.7,160.4 553.2,161.6 553.7,162.8 554.2,164.0 554.7,164.7 555.2,165.2 555.7,165.7 556.2,166.2 556.7,166.7 557.2,167.2 557.7,167.7 558.2,168.8 558.7,170.0 559.2,171.1 559.7,172.2 560.2,173.4 560.7,174.5 561.2,175.5 561.7,175.9 562.2,176.3 562.7,176.7 563.2,177.0 563.7,177.4 564.2,177.7 564.7,178.3 565.2,179.4 565.7,180.4 566.2,181.5 566.7,182.5 567.2,183.5 567.7,184.6 568.2,185.2 568.7,185.3 569.2,185.3 569.7,184.9 570.2,183.8 570.7,182.1 571.2,180.5 571.7,180.7 572.2,182.6 572.7,185.6 573.2,190.2 573.7,200.4 574.2,212.4 574.7,210.1 575.2,198.8 575.7,193.4 576.2,191.8 576.7,190.5 577.2,188.8 577.7,187.4 578.2,187.1 578.7,188.8 579.2,191.3 579.7,194.1 580.2,196.6 580.7,198.8 581.2,200.6 581.7,201.6 582.2,201.7 582.7,201.4 583.2,200.9 583.7,200.4 584.2,200.0 584.7,199.9 585.2,200.3 585.7,201.2 586.2,202.1 586.7,203.0 587.2,203.9 587.7,204.9 588.2,205.8 588.7,206.0 589.2,206.0 589.7,206.0 590.2,205.9 590.7,205.9 591.2,205.8 591.7,205.8 592.2,206.7 592.7,207.6 593.2,208.6 593.7,209.5 594.2,210.4 594.7,211.4 595.2,212.2 595.7,212.1 596.2,212.0 596.7,212.0 597.2,211.9 597.7,211.8 598.2,211.7 598.7,212.0 599.2,212.9 599.7,213.8 600.2,214.7 600.7,215.6 601.2,216.5 601.7,217.4 602.2,217.8 602.7,217.6 603.2,217.5 603.7,217.3 604.2,217.1 604.7,216.9 605.2,216.8 605.7,217.3 606.2,218.2 606.7,219.0 607.2,219.8 607.7,220.6 608.2,221.4 608.7,222.2 609.2,221.9 609.7,221.6 610.2,221.3 610.7,221.0 611.2,220.6 611.7,220.3 612.2,220.1 612.7,220.8 613.2,221.4 613.7,222.1 614.2,222.7 614.7,223.3 615.2,223.9 615.7,224.1 616.2,223.6 616.7,223.1 617.2,222.6 617.7,222.1 618.2,221.5 618.7,220.9 619.2,221.0 619.7,221.4 620.2,221.9 620.7,222.3 621.2,222.7 621.7,223.1 622.2,223.5 622.7,223.1 623.2,222.4 623.7,221.7 624.2,220.9 624.7,220.2 625.2,219.4 625.7,218.7 626.2,218.9 626.7,219.2 627.2,219.4 627.7,219.7 628.2,219.9 628.7,220.1 629.2,220.1 629.7,219.3 630.2,218.4 630.7,217.6 631.2,216.7 631.7,215.8 632.2,214.9 632.7,214.4 633.2,214.6 633.7,214.7 634.2,214.8 634.7,214.9 635.2,215.0 635.7,215.1 636.2,214.6 636.7,213.7 637.2,212.8 637.7,211.8 638.2,210.9 638.7,210.0 639.2,209.0 639.7,208.9 640.2,208.9 640.7,209.0 641.2,209.0 641.7,209.1 642.2,209.1 642.7,209.2 643.2,208.3 643.7,207.3 644.2,206.4 644.7,205.5 645.2,204.5 645.7,203.6 646.2,202.8 646.7,202.9 647.2,202.9 647.7,202.9 648.2,202.9 648.7,203.0 649.2,203.0 649.7,202.6 650.2,201.7 650.7,200.8 651.2,199.9 651.7,198.9 652.2,198.0 652.7,197.1 653.2,196.7 653.7,196.7 654.2,196.7 654.7,196.7 655.2,196.6 655.7,196.6 656.2,196.5 656.7,195.8 657.2,194.9 657.7,193.9 658.2,193.0 658.7,192.1 659.2,191.2 659.7,190.4 660.2,190.7 660.7,191.6 661.2,193.1 661.7,194.9 662.2,196.0 662.7,195.5 663.2,193.5 663.7,189.8 664.2,182.3 664.7,169.2 665.2,164.6 665.7,174.1 666.2,181.5 666.7,183.3 667.2,184.4 667.7,185.7 668.2,187.1 668.7,187.7 669.2,187.2 669.7,185.5 670.2,182.9 670.7,180.1 671.2,177.6 671.7,175.5 672.2,173.8 672.7,172.5 673.2,171.6 673.7,171.5 674.2,171.6 674.7,171.6 675.2,171.4 675.7,171.0 676.2,170.6 676.7,170.1 677.2,169.0 677.7,167.8 678.2,166.7 678.7,165.5 679.2,164.3 679.7,163.2 680.2,162.1 680.7,161.6 681.2,161.0 681.7,160.5 682.2,159.9 682.7,159.3 683.2,158.8 683.7,158.0" fill="none" stroke="#ffff00" stroke-width="1.5" stroke-linejoin="round"/>
<polyline points="412.2,212.5 412.7,212.7 413.2,213.6 413.7,214.5 414.2,215.4 414.7,216.3 415.2,217.2 415.7,218.1 416.2,218.4 416.7,218.3 417.2,218.1 417.7,217.9 418.2,217.7 418.7,217.5 419.2,217.3 419.7,217.9 420.2,218.7 420.7,219.5 421.2,220.3 421.7,221.0 422.2,221.8 422.7,222.6 423.2,222.3 423.7,222.0 424.2,221.7 424.7,221.3 425.2,221.0 425.7,220.6 426.2,220.3 426.7,221.0 427.2,221.6 427.7,222.2 428.2,222.8 428.7,223.4 429.2,224.0 429.7,224.2 430.2,223.7 430.7,223.1 431.2,222.6 431.7,222.0 432.2,221.5 432.7,220.9 433.2,220.8 433.7,221.2 434.2,221.7 434.7,222.1 435.2,222.5 435.7,222.8 436.2,223.2 436.7,222.8 437.2,222.0 437.7,221.3 438.2,220.6 438.7,219.8 439.2,219.0 439.7,218.2 440.2,218.4 440.7,218.7 441.2,218.9 441.7,219.1 442.2,219.3 442.7,219.5 443.2,219.6 443.7,218.7 444.2,217.8 444.7,217.0 445.2,216.1 445.7,215.2 446.2,214.3 446.7,213.7 447.2,213.8 447.7,214.0 448.2,214.1 448.7,214.2 449.2,214.3 449.7,214.3 450.2,213.9 450.7,213.0 451.2,212.0 451.7,211.1 452.2,210.2 452.7,209.2 453.2,208.3 453.7,208.1 454.2,208.1 454.7,208.2 455.2,208.2 455.7,208.3 456.2,208.3 456.7,208.3 457.2,207.5 457.7,206.5 458.2,205.6 458.7,204.7 459.2,203.7 459.7,202.8 460.2,202.0 460.7,202.0 461.2,202.1 461.7,202.1 462.2,202.1 462.7,202.1 463.2,202.1 463.7,201.8 464.2,200.9 464.7,200.0 465.2,199.1 465.7,198.1 466.2,197.2 466.7,196.3 467.2,195.9 467.7,195.8 468.2,195.8 468.7,195.8 469.2,195.7 469.7,195.7 470.2,195.6 470.7,194.9 471.2,194.0 471.7,193.0 472.2,192.1 472.7,191.2 473.2,190.2 473.7,189.3 474.2,189.1 474.7,189.0 475.2,188.8 475.7,188.7 476.2,188.5 476.7,188.3 477.2,188.1 477.7,187.1 478.2,186.2 478.7,185.5 479.2,185.4 479.7,185.9 480.2,186.9 480.7,187.5 481.2,187.2 481.7,185.5 482.2,182.8 482.7,177.1 483.2,165.2 483.7,158.1 484.2,166.2 484.7,174.9 485.2,177.1 485.7,177.3 486.2,177.8 486.7,178.4 487.2,178.4 487.7,177.7 488.2,176.1 488.7,173.9 489.2,171.6 489.7,169.7 490.2,168.2 490.7,166.9 491.2,165.5 491.7,164.5 492.2,163.8 492.7,163.1 493.2,162.4 493.7,161.5 494.2,160.5 494.7,160.0 495.2,159.5 495.7,158.9 496.2,158.3 496.7,157.7 497.2,157.2 497.7,156.4 498.2,155.2 498.7,154.0 499.2,152.9 499.7,151.7 500.2,150.5 500.7,149.3 501.2,148.5 501.7,147.9 502.2,147.3 502.7,146.8 503.2,146.3 503.7,145.7 504.2,145.2 504.7,144.2 505.2,143.1 505.7,141.9 506.2,140.8 506.7,139.6 507.2,138.4 507.7,137.3 508.2,136.8 508.7,136.3 509.2,135.9 509.7,135.5 510.2,135.1 510.7,134.7 511.2,134.2 511.7,133.2 512.2,132.1 512.7,131.0 513.2,129.9 513.7,128.8 514.2,127.8 514.7,127.0 515.2,126.7 515.7,126.4 516.2,126.1 516.7,125.9 517.2,125.6 517.7,125.4 518.2,124.8 518.7,123.8 519.2,122.8 519.7,121.8 520.2,120.9 520.7,119.9 521.2,118.9 521.7,118.5 522.2,118.4 522.7,118.3 523.2,118.2 523.7,118.3 524.2,118.6 524.7,119.6 525.2,120.5 525.7,121.5 526.2,121.6 526.7,120.2 527.2,117.5 527.7,113.7 528.2,105.7 528.7,93.5 529.2,91.6 529.7,102.6 530.2,110.2 530.7,112.5 531.2,113.8 531.7,115.2 532.2,115.9 532.7,115.8 533.2,114.5 533.7,112.1 534.2,109.4 534.7,106.7 535.2,104.9 535.7,104.0 536.2,103.4 536.7,103.3 537.2,103.5 537.7,104.0 538.2,104.6 538.7,104.3 539.2,103.6 539.7,102.8 540.2,101.9 540.7,100.9 541.2,100.0 541.7,99.1 542.2,99.0 542.7,99.1 543.2,99.1 543.7,99.2 544.2,99.2 544.7,99.3 545.2,99.3 545.7,98.3 546.2,97.4 546.7,96.5 547.2,95.6 547.7,94.6 548.2,93.7 548.7,93.1 549.2,93.2 549.7,93.3 550.2,93.5 550.7,93.6 551.2,93.7 551.7,93.9 552.2,93.5 552.7,92.7 553.2,91.8 553.7,90.9 554.2,90.1 554.7,89.3 555.2,88.4 555.7,88.4 556.2,88.6 556.7,88.9 557.2,89.1 557.7,89.4 558.2,89.7 558.7,90.0 559.2,89.3 559.7,88.6 560.2,87.9 560.7,87.2 561.2,86.5 561.7,85.9 562.2,85.3 562.7,85.8 563.2,86.2 563.7,86.6 564.2,87.1 564.7,87.6 565.2,88.1 565.7,88.3 566.2,87.7 566.7,87.2 567.2,86.7 567.7,86.2 568.2,85.7 568.7,85.3 569.2,85.4 569.7,86.0 570.2,86.7 570.7,87.3 571.2,88.0 571.7,88.7 572.2,89.4 572.7,89.4 573.2,89.0 573.7,88.7 574.2,88.4 574.7,88.2 575.2,87.9 575.7,87.6 576.2,88.4 576.7,89.2 577.2,90.0 577.7,90.8 578.2,91.7 578.7,92.5 579.2,93.2 579.7,93.1 580.2,92.9 580.7,92.8 581.2,92.6 581.7,92.5 582.2,92.3 582.7,92.6 583.2,93.5 583.7,94.4 584.2,95.3 584.7,96.2 585.2,97.1 585.7,98.1 586.2,98.5 586.7,98.4 587.2,98.3 587.7,98.3 588.2,98.2 588.7,98.1 589.2,98.1 589.7,98.7 590.2,99.7 590.7,100.6 591.2,101.6 591.7,102.5 592.2,103.4 592.7,104.4 593.2,104.4 593.7,104.4 594.2,104.3 594.7,104.3 595.2,104.3 595.7,104.2 596.2,104.3 596.7,105.3 597.2,106.2 597.7,107.1 598.2,108.0 598.7,109.0 599.2,109.9 599.7,110.5 600.2,110.5 600.7,110.5 601.2,110.5 601.7,110.5 602.2,110.5 602.7,110.6 603.2,111.0 603.7,112.0 604.2,112.9 604.7,113.8 605.2,114.7 605.7,115.7 606.2,116.6 606.7,116.9 607.2,117.0 607.7,117.1 608.2,117.1 608.7,117.2 609.2,117.4 609.7,117.5 610.2,118.4 610.7,119.3 611.2,120.3 611.7,121.3 612.2,122.3 612.7,123.3 613.2,124.1 613.7,124.3 614.2,124.4 614.7,124.3 615.2,123.7 615.7,122.5 616.2,120.8 616.7,119.8 617.2,120.7 617.7,123.1 618.2,126.5 618.7,132.4 619.2,144.5 619.7,153.7 620.2,146.7 620.7,136.8 621.2,133.4 621.7,132.4 622.2,131.3 622.7,130.0 623.2,129.2 623.7,130.0 624.2,132.2 624.7,135.1 625.2,138.1 625.7,140.7 626.2,143.0 626.7,144.9 627.2,145.8 627.7,146.2 628.2,146.3 628.7,146.3 629.2,146.4 629.7,146.7 630.2,147.2 630.7,148.3 631.2,149.5 631.7,150.7 632.2,151.8 632.7,153.0 633.2,154.2 633.7,155.1 634.2,155.7 634.7,156.3 635.2,156.9 635.7,157.5 636.2,158.1 636.7,158.6 637.2,159.5 637.7,160.7 638.2,161.8 638.7,163.0 639.2,164.2 639.7,165.4 640.2,166.5 640.7,167.2 641.2,167.7 641.7,168.2 642.2,168.7 642.7,169.2 643.2,169.6 643.7,170.1 644.2,171.2 644.7,172.3 645.2,173.4 645.7,174.5 646.2,175.6 646.7,176.8 647.2,177.8 647.7,178.1 648.2,178.5 648.7,178.8 649.2,179.2 649.7,179.5 650.2,179.8 650.7,180.3 651.2,181.3 651.7,182.4 652.2,183.4 652.7,184.4 653.2,185.4 653.7,186.5 654.2,187.0 654.7,187.2 655.2,187.4 655.7,187.6 656.2,187.8 656.7,187.9 657.2,188.1 657.7,188.8 658.2,189.7 658.7,190.7 659.2,191.6 659.7,192.4 660.2,192.9 660.7,192.9 661.2,191.3 661.7,189.5 662.2,188.3 662.7,188.7 663.2,190.4 663.7,193.2 664.2,199.8 664.7,212.8 665.2,217.4 665.7,207.8 666.2,200.3 666.7,198.7 667.2,198.3 667.7,197.3 668.2,195.7 668.7,194.7 669.2,195.0 669.7,196.3 670.2,198.1 670.7,199.9 671.2,201.7 671.7,203.6 672.2,205.2 672.7,206.3 673.2,207.1 673.7,207.5 674.2,207.9 674.7,207.8 675.2,207.5 675.7,207.4 676.2,207.3 676.7,207.2 677.2,207.2 677.7,207.1 678.2,208.0 678.7,208.9 679.2,209.9 679.7,210.8 680.2,211.7 680.7,212.7 681.2,213.5 681.7,213.4 682.2,213.3 682.7,213.3 683.2,213.2 683.7,213.1" fill="none" stroke="#00f400" stroke-width="1.5" stroke-linejoin="round"/>
<polyline points="412.2,97.8 412.7,98.7 413.2,99.7 413.7,100.6 414.2,100.9 414.7,100.9 415.2,100.8 415.7,100.8 416.2,100.7 416.7,100.7 417.2,100.6 417.7,101.4 418.2,102.3 418.7,103.3 419.2,104.2 419.7,105.1 420.2,106.0 420.7,107.0 421.2,106.9 421.7,106.9 422.2,106.9 422.7,106.9 423.2,106.9 423.7,106.9 424.2,107.0 424.7,108.0 425.2,108.9 425.7,109.8 426.2,110.7 426.7,111.6 427.2,112.6 427.7,113.1 428.2,113.1 428.7,113.2 429.2,113.2 429.7,113.2 430.2,113.3 430.7,113.3 431.2,113.9 431.7,114.9 432.2,115.8 432.7,116.7 433.2,117.3 433.7,117.6 434.2,117.2 434.7,115.5 435.2,114.0 435.7,113.6 436.2,114.8 436.7,117.1 437.2,121.3 437.7,131.4 438.2,142.6 438.7,138.8 439.2,128.6 439.7,124.7 440.2,124.2 440.7,123.8 441.2,122.9 441.7,121.8 442.2,121.7 442.7,122.9 443.2,124.8 443.7,127.0 444.2,128.9 444.7,130.7 445.2,132.7 445.7,134.2 446.2,135.3 446.7,136.0 447.2,136.6 447.7,137.2 448.2,137.6 448.7,137.9 449.2,138.3 449.7,138.7 450.2,139.2 450.7,139.6 451.2,140.1 451.7,141.2 452.2,142.3 452.7,143.5 453.2,144.7 453.7,145.8 454.2,147.0 454.7,148.2 455.2,148.7 455.7,149.3 456.2,149.8 456.7,150.4 457.2,151.0 457.7,151.5 458.2,152.2 458.7,153.4 459.2,154.6 459.7,155.8 460.2,156.9 460.7,158.1 461.2,159.3 461.7,160.2 462.2,160.8 462.7,161.4 463.2,161.9 463.7,162.5 464.2,163.0 464.7,163.5 465.2,164.4 465.7,165.6 466.2,166.8 466.7,167.9 467.2,169.1 467.7,170.2 468.2,171.4 468.7,172.0 469.2,172.4 469.7,172.9 470.2,173.3 470.7,173.7 471.2,174.1 471.7,174.5 472.2,175.6 472.7,176.7 473.2,177.7 473.7,178.8 474.2,179.9 474.7,181.0 475.2,181.9 475.7,182.2 476.2,182.5 476.7,182.7 477.2,183.0 477.7,183.2 478.2,183.3 478.7,183.5 479.2,183.6 479.7,183.0 480.2,182.1 480.7,181.7 481.2,182.6 481.7,185.1 482.2,188.0 482.7,193.5 483.2,205.2 483.7,212.0 484.2,203.3 484.7,193.7 485.2,190.5 485.7,189.9 486.2,189.2 486.7,188.5 487.2,188.3 487.7,189.2 488.2,191.3 488.7,194.0 489.2,195.9 489.7,197.4 490.2,198.5 490.7,199.2 491.2,199.5 491.7,199.4 492.2,199.1 492.7,199.5 493.2,200.0 493.7,200.7 494.2,201.5 494.7,202.3 495.2,203.3 495.7,203.8 496.2,203.8 496.7,203.8 497.2,203.8 497.7,203.7 498.2,203.7 498.7,203.7 499.2,204.2 499.7,205.1 500.2,206.1 500.7,207.0 501.2,207.9 501.7,208.9 502.2,209.8 502.7,210.0 503.2,209.9 503.7,209.9 504.2,209.8 504.7,209.8 505.2,209.7 505.7,209.6 506.2,210.5 506.7,211.5 507.2,212.4 507.7,213.3 508.2,214.3 508.7,215.2 509.2,215.9 509.7,215.8 510.2,215.7 510.7,215.6 511.2,215.4 511.7,215.3 512.2,215.1 512.7,215.4 513.2,216.3 513.7,217.1 514.2,218.0 514.7,218.9 515.2,219.7 515.7,220.5 516.2,220.7 516.7,220.5 517.2,220.2 517.7,220.0 518.2,219.7 518.7,219.4 519.2,219.1 519.7,219.7 520.2,220.4 520.7,221.1 521.2,221.8 521.7,222.5 522.2,223.2 522.7,223.8 523.2,223.4 523.7,223.0 524.2,222.6 524.7,222.1 525.2,221.6 525.7,221.2 526.2,220.9 526.7,221.4 527.2,221.9 527.7,222.5 528.2,222.9 528.7,223.4 529.2,223.9 529.7,223.9 530.2,223.3 530.7,222.7 531.2,222.0 531.7,221.3 532.2,220.7 532.7,220.0 533.2,219.9 533.7,220.2 534.2,220.5 534.7,220.8 535.2,221.1 535.7,221.4 536.2,221.7 536.7,221.1 537.2,220.3 537.7,219.5 538.2,218.6 538.7,217.8 539.2,217.0 539.7,216.1 540.2,216.3 540.7,216.4 541.2,216.6 541.7,216.8 542.2,216.9 542.7,217.0 543.2,216.9 543.7,216.0 544.2,215.1 544.7,214.2 545.2,213.3 545.7,212.4 546.2,211.4 546.7,210.9 547.2,211.0 547.7,211.1 548.2,211.1 548.7,211.2 549.2,211.3 549.7,211.3 550.2,210.8 550.7,209.8 551.2,208.9 551.7,208.0 552.2,207.0 552.7,206.1 553.2,205.2 553.7,205.0 554.2,205.1 554.7,205.1 555.2,205.1 555.7,205.1 556.2,205.2 556.7,205.2 557.2,204.3 557.7,203.3 558.2,202.4 558.7,201.5 559.2,200.6 559.7,199.6 560.2,198.9 560.7,198.9 561.2,198.9 561.7,198.9 562.2,198.9 562.7,198.9 563.2,198.9 563.7,198.5 564.2,197.6 564.7,196.6 565.2,195.7 565.7,194.8 566.2,193.9 566.7,192.9 567.2,192.5 567.7,192.5 568.2,192.4 568.7,192.4 569.2,192.5 569.7,193.0 570.2,194.2 570.7,195.3 571.2,196.1 571.7,195.8 572.2,193.9 572.7,190.9 573.2,186.2 573.7,176.0 574.2,164.8 574.7,167.8 575.2,179.0 575.7,184.3 576.2,185.7 576.7,186.9 577.2,188.2 577.7,188.6 578.2,188.0 578.7,186.2 579.2,183.5 579.7,180.6 580.2,177.9 580.7,175.9 581.2,174.7 581.7,173.9 582.2,173.5 582.7,173.4 583.2,173.5 583.7,173.6 584.2,173.0 584.7,172.1 585.2,171.0 585.7,169.9 586.2,168.7 586.7,167.6 587.2,166.4 587.7,165.8 588.2,165.3 588.7,164.8 589.2,164.3 589.7,163.8 590.2,163.2 590.7,162.7 591.2,161.5 591.7,160.3 592.2,159.1 592.7,157.9 593.2,156.8 593.7,155.6 594.2,154.5 594.7,154.0 595.2,153.4 595.7,152.8 596.2,152.2 596.7,151.6 597.2,151.1 597.7,150.3 598.2,149.1 598.7,147.9 599.2,146.8 599.7,145.6 600.2,144.4 600.7,143.2 601.2,142.4 601.7,141.9 602.2,141.4 602.7,140.9 603.2,140.5 603.7,140.0 604.2,139.5 604.7,138.5 605.2,137.4 605.7,136.3 606.2,135.2 606.7,134.1 607.2,132.9 607.7,131.8 608.2,131.5 608.7,131.1 609.2,130.7 609.7,130.4 610.2,130.1 610.7,129.8 611.2,129.3 611.7,128.3 612.2,127.3 612.7,126.2 613.2,125.2 613.7,124.2 614.2,123.3 614.7,122.9 615.2,123.5 615.7,124.8 616.2,126.6 616.7,127.9 617.2,127.9 617.7,126.5 618.2,123.5 618.7,117.7 619.2,105.6 619.7,96.6 620.2,103.3 620.7,112.7 621.2,115.5 621.7,116.6 622.2,118.1 622.7,119.7 623.2,120.9 623.7,121.0 624.2,119.9 624.7,118.1 625.2,115.3 625.7,112.9 626.2,110.9 626.7,109.2 627.2,108.0 627.7,107.1 628.2,106.8 628.7,107.3 629.2,107.8 629.7,108.0 630.2,108.2 630.7,108.3 631.2,108.3 631.7,107.9 632.2,107.0 632.7,106.1 633.2,105.2 633.7,104.2 634.2,103.3 634.7,102.4 635.2,102.0 635.7,102.1 636.2,102.1 636.7,102.1 637.2,102.2 637.7,102.2 638.2,102.3 638.7,101.5 639.2,100.6 639.7,99.7 640.2,98.7 640.7,97.8 641.2,96.8 641.7,95.9 642.2,96.0 642.7,96.1 643.2,96.1 643.7,96.2 644.2,96.3 644.7,96.4 645.2,96.3 645.7,95.4 646.2,94.5 646.7,93.6 647.2,92.7 647.7,91.8 648.2,90.9 648.7,90.5 649.2,90.6 649.7,90.8 650.2,91.0 650.7,91.2 651.2,91.4 651.7,91.6 652.2,91.2 652.7,90.4 653.2,89.6 653.7,88.8 654.2,88.1 654.7,87.3 655.2,86.6 655.7,86.7 656.2,87.0 656.7,87.3 657.2,87.7 657.7,88.1 658.2,88.5 658.7,88.9 659.2,88.2 659.7,87.6 660.2,87.0 660.7,86.4 661.2,85.8 661.7,85.3 662.2,84.9 662.7,85.5 663.2,86.0 663.7,86.6 664.2,87.1 664.7,87.7 665.2,88.3 665.7,88.5 666.2,88.1 666.7,87.7 667.2,87.3 667.7,86.9 668.2,86.5 668.7,86.2 669.2,86.5 669.7,87.2 670.2,88.0 670.7,88.7 671.2,89.5 671.7,90.3 672.2,91.0 672.7,91.0 673.2,90.8 673.7,90.6 674.2,90.3 674.7,90.1 675.2,90.0 675.7,89.8 676.2,90.6 676.7,91.5 677.2,92.4 677.7,93.3 678.2,94.2 678.7,95.1 679.2,95.8 679.7,95.7 680.2,95.5 680.7,95.4 681.2,95.3 681.7,95.3 682.2,95.2 682.7,95.5 683.2,96.4 683.7,97.4" fill="none" stroke="#fa0000" stroke-width="1.5" stroke-linejoin="round"/>
</g>
<line x1="411.7" y1="154.6" x2="684.1" y2="154.6" stroke="#202020" stroke-width="1.1"/>
<line x1="480.7" y1="78.5" x2="480.7" y2="230.9" stroke="#202020" stroke-width="1.2"/>
<rect x="411.7" y="78.5" width="272.4" height="152.4" fill="none" stroke="#202020" stroke-width="1.1"/>
<path d="M480.8 69 l3 3 h-1.6 v2 h-2.8 v-2 h-1.6 Z M477.5 75.6 h6.6" fill="none" stroke="#202020" stroke-width="0.8"/>
<text x="401" y="87.2" font-size="11.2" fill="#101010" text-anchor="end">655</text>
<text x="406" y="157.8" font-size="11.2" fill="#101010" text-anchor="end">0</text>
<text x="401" y="231.8" font-size="11.2" fill="#101010" text-anchor="end">−655</text>
<text x="685.4" y="86.4" font-size="10.8" fill="#101010">A</text>
<text x="685.4" y="231.6" font-size="10.8" fill="#101010">A</text>
<path d="M695.6 99.4 L702.1 93.2 L708.6 99.4" fill="none" stroke="#000000" stroke-width="1.5" stroke-linejoin="miter"/>
<rect x="693" y="101.7" width="18.4" height="87.9" fill="#c4c4c4"/>
<rect x="692.6" y="101.2" width="19.2" height="13.3" fill="#808080"/>
<text x="702.4" y="112.15" font-size="12.4" fill="#000000" text-anchor="middle" textLength="12.8" lengthAdjust="spacingAndGlyphs" font-weight="bold" stroke="#000" stroke-width="0.3">3U</text>
<rect x="692.6" y="116.5" width="19.2" height="13.3" fill="#808080"/>
<text x="702.4" y="127.45" font-size="12.4" fill="#000000" text-anchor="middle" textLength="12.8" lengthAdjust="spacingAndGlyphs" font-weight="bold" stroke="#000" stroke-width="0.3">3V</text>
<rect x="692.6" y="131.4" width="19.2" height="13.3" fill="#ffff00"/>
<text x="702.4" y="142.35" font-size="12.4" fill="#000000" text-anchor="middle" textLength="12.8" lengthAdjust="spacingAndGlyphs" font-weight="bold" stroke="#000" stroke-width="0.3">3A</text>
<rect x="692.6" y="146.5" width="19.2" height="13.3" fill="#808080"/>
<text x="702.4" y="157.45" font-size="12.4" fill="#000000" text-anchor="middle" textLength="12.8" lengthAdjust="spacingAndGlyphs" font-weight="bold" stroke="#000" stroke-width="0.3">L1</text>
<rect x="692.6" y="161.7" width="19.2" height="13.3" fill="#808080"/>
<text x="702.4" y="172.65" font-size="12.4" fill="#000000" text-anchor="middle" textLength="12.8" lengthAdjust="spacingAndGlyphs" font-weight="bold" stroke="#000" stroke-width="0.3">L2</text>
<rect x="692.6" y="176.8" width="19.2" height="13.3" fill="#808080"/>
<text x="702.4" y="187.75" font-size="12.4" fill="#000000" text-anchor="middle" textLength="12.8" lengthAdjust="spacingAndGlyphs" font-weight="bold" stroke="#000" stroke-width="0.3">L3</text>
<path d="M695.6 192 L702.1 198.6 L708.6 192" fill="none" stroke="#000000" stroke-width="1.5" stroke-linejoin="miter"/>
<text x="382" y="246.4" font-size="11" fill="#101010" textLength="14.4" lengthAdjust="spacingAndGlyphs">‹t=</text>
<text x="407" y="246.4" font-size="11" fill="#101010" textLength="27.6" lengthAdjust="spacingAndGlyphs">5.1 ms</text>
<text x="446.6" y="246.4" font-size="11" fill="#101010" textLength="52" lengthAdjust="spacingAndGlyphs">A1=+583.5</text>
<text x="510.4" y="246.4" font-size="11" fill="#101010" textLength="53" lengthAdjust="spacingAndGlyphs">A2=-439.5</text>
<text x="573" y="246.4" font-size="11" fill="#101010" textLength="51" lengthAdjust="spacingAndGlyphs">A3=-156.1</text>
<text x="700.4" y="246.6" font-size="11" fill="#101010">›</text>
<path d="M376.9 275.8 V261.4 C389.12 254.53 415.58 254.53 427.8 261.4 V275.8 Z" fill="#808080" stroke="none" stroke-width="1"/>
<text x="387.9" y="273" font-size="15.4" fill="#000" stroke="#000" stroke-width="0.35">RMS</text>
<path d="M433.4 275.8 V261.4 C445.62 254.53 472.08 254.53 484.3 261.4 V275.8 Z" fill="#ffff00" stroke="none" stroke-width="1"/>
<text x="444.4" y="273" font-size="15.4" fill="#000" stroke="#000" stroke-width="0.35">THD</text>
<path d="M490 275.8 V261.4 C502.22 254.53 528.68 254.53 540.9 261.4 V275.8 Z" fill="#808080" stroke="none" stroke-width="1"/>
<text x="501" y="273" font-size="15.4" fill="#000" stroke="#000" stroke-width="0.35">CF</text>
<path d="M546 275.8 V261.4 C558.22 254.53 584.68 254.53 596.9 261.4 V275.8 Z" fill="#808080" stroke="none" stroke-width="1"/>
<path d="M602.4 275.8 V261.4 C614.62 254.53 641.08 254.53 653.3 261.4 V275.8 Z" fill="#808080" stroke="none" stroke-width="1"/>
<path d="M658.8 275.8 V261.4 C671.02 254.53 697.48 254.53 709.7 261.4 V275.8 Z" fill="#808080" stroke="none" stroke-width="1"/>
<line x1="558" y1="260.8" x2="589.2" y2="260.8" stroke="#000" stroke-width="1.2"/>
<line x1="558" y1="274.4" x2="589.2" y2="274.4" stroke="#000" stroke-width="1.2"/>
<line x1="573.5" y1="263.4" x2="573.5" y2="271.8" stroke="#000" stroke-width="1.8"/>
<path d="M573.5 261.4 l-3.3 3.8 h6.6 Z" fill="#000" stroke="none" stroke-width="1"/>
<path d="M573.5 273.8 l-3.3 -3.8 h6.6 Z" fill="#000" stroke="none" stroke-width="1"/>
<line x1="616.2" y1="263.4" x2="616.2" y2="274.8" stroke="#000" stroke-width="2.2" stroke-dasharray="1.25 0.65"/>
<line x1="623.3" y1="259.8" x2="623.3" y2="274.8" stroke="#000" stroke-width="4.7" stroke-dasharray="1.25 0.65"/>
<line x1="629.7" y1="259.8" x2="629.7" y2="274.8" stroke="#000" stroke-width="4.7" stroke-dasharray="1.25 0.65"/>
<line x1="636.1" y1="259.8" x2="636.1" y2="274.8" stroke="#000" stroke-width="4.7" stroke-dasharray="1.25 0.65"/>
<line x1="642.5" y1="259.8" x2="642.5" y2="274.8" stroke="#000" stroke-width="4.7" stroke-dasharray="1.25 0.65"/>
<path d="M681.4 262.2 L671.4 272.8 L684.8 272.8" fill="none" stroke="#000" stroke-width="1.3"/>
<path d="M687.2 272.8 l-3.8 -2.4 v4.8 Z" fill="#000" stroke="none" stroke-width="1"/>
<path d="M683.2 260.3 l-4.4 0.9 l3.2 3.0 Z" fill="#000" stroke="none" stroke-width="1"/>
<circle cx="694.8" cy="266.8" r="6.4" fill="none" stroke="#000" stroke-width="1.2"/>
<line x1="694.8" y1="266.8" x2="700.8" y2="264.6" stroke="#000" stroke-width="1.1"/>
<line x1="694.8" y1="266.8" x2="689.9" y2="262.7" stroke="#000" stroke-width="1.1"/>
<line x1="694.8" y1="266.8" x2="693.7" y2="273.1" stroke="#000" stroke-width="1.1"/>
<text x="90" y="330.6" font-size="18.2" fill="#0a0a12" textLength="36.6" lengthAdjust="spacing" font-family='"Liberation Serif", "Noto Serif CJK SC", serif'>开启</text>
<text x="132" y="330.2" font-size="20.5" fill="#0a0a12" textLength="26.6" lengthAdjust="spacingAndGlyphs" font-family='"Liberation Serif", "Noto Serif CJK SC", serif'>APF</text>
<text x="166" y="330.6" font-size="18.2" fill="#0a0a12" textLength="17.8" lengthAdjust="spacing" font-family='"Liberation Serif", "Noto Serif CJK SC", serif'>前</text>
<text x="188.3" y="330.2" font-size="20.5" fill="#0a0a12" textLength="7.6" lengthAdjust="spacingAndGlyphs" font-family='"Liberation Serif", "Noto Serif CJK SC", serif'>5</text>
<text x="202.6" y="330.6" font-size="18.2" fill="#0a0a12" textLength="73.8" lengthAdjust="spacing" font-family='"Liberation Serif", "Noto Serif CJK SC", serif'>次频谱图</text>
<text x="24.6" y="365.2" font-size="16.4" fill="#101010" textLength="50" lengthAdjust="spacingAndGlyphs" stroke="#101010" stroke-width="0.3">A–h05</text>
<ellipse cx="85.3" cy="360" rx="7.7" ry="8.2" fill="#ffffff" stroke="#ffff00" stroke-width="1.7"/>
<text x="85.3" y="363.6" font-size="10" fill="#303030" text-anchor="middle">1</text>
<text x="137.6" y="365.2" font-size="16.2" fill="#101010" text-anchor="end" stroke="#101010" stroke-width="0.6">22.8</text>
<text x="141" y="365.2" font-size="10.5" fill="#101010" textLength="14.2" lengthAdjust="spacingAndGlyphs" font-weight="bold">%f</text>
<text x="138" y="386.2" font-size="16.2" fill="#101010" text-anchor="end" stroke="#101010" stroke-width="0.6">103.5</text>
<text x="149" y="386.8" font-size="10.4" fill="#101010" font-weight="bold">A</text>
<text x="108.8" y="402.6" font-size="10.6" fill="#101010" textLength="30.6" lengthAdjust="spacingAndGlyphs" font-weight="bold">+171°</text>
<ellipse cx="177.3" cy="360" rx="7.7" ry="8.2" fill="#ffffff" stroke="#00f400" stroke-width="1.7"/>
<text x="177.3" y="363.6" font-size="10" fill="#303030" text-anchor="middle">2</text>
<text x="230.6" y="365.2" font-size="16.2" fill="#101010" text-anchor="end" stroke="#101010" stroke-width="0.6">21.3</text>
<text x="232.4" y="365.2" font-size="10.5" fill="#101010" textLength="14.2" lengthAdjust="spacingAndGlyphs" font-weight="bold">%f</text>
<text x="231" y="386.2" font-size="16.2" fill="#101010" text-anchor="end" stroke="#101010" stroke-width="0.6">100.5</text>
<text x="242" y="386.8" font-size="10.4" fill="#101010" font-weight="bold">A</text>
<text x="201.8" y="402.6" font-size="10.6" fill="#101010" textLength="30.6" lengthAdjust="spacingAndGlyphs" font-weight="bold">+162°</text>
<ellipse cx="269.2" cy="360" rx="7.7" ry="8.2" fill="#ffffff" stroke="#fa0000" stroke-width="1.7"/>
<text x="269.2" y="363.6" font-size="10" fill="#303030" text-anchor="middle">3</text>
<text x="322.4" y="365.2" font-size="16.2" fill="#101010" text-anchor="end" stroke="#101010" stroke-width="0.6">22.8</text>
<text x="324.2" y="365.2" font-size="10.5" fill="#101010" textLength="14.2" lengthAdjust="spacingAndGlyphs" font-weight="bold">%f</text>
<text x="322.8" y="386.2" font-size="16.2" fill="#101010" text-anchor="end" stroke="#101010" stroke-width="0.6">103.6</text>
<text x="333.8" y="386.8" font-size="10.4" fill="#101010" font-weight="bold">A</text>
<text x="293.6" y="402.6" font-size="10.6" fill="#101010" textLength="30.6" lengthAdjust="spacingAndGlyphs" font-weight="bold">+175°</text>
<text x="29.4" y="421.4" font-size="10.2" fill="#101010">%</text>
<path d="M100.5 418.3 l3.2 -2.2 l3.2 2.2 l-3.2 2.2 Z" fill="#fff" stroke="#303030" stroke-width="0.7"/>
<rect x="56.8" y="433.5" width="3.22" height="107.5" fill="#ffff00"/>
<rect x="59.97" y="433.5" width="3.22" height="107.5" fill="#00f400"/>
<rect x="63.14" y="433.5" width="3.22" height="107.5" fill="#fa0000"/>
<rect x="67.37" y="539.2" width="3.22" height="1.8" fill="#ffff00"/>
<rect x="70.54" y="538.6" width="3.22" height="2.4" fill="#00f400"/>
<rect x="73.71" y="539" width="3.22" height="2" fill="#fa0000"/>
<rect x="77.95" y="538.4" width="3.22" height="2.6" fill="#ffff00"/>
<rect x="81.12" y="537.8" width="3.22" height="3.2" fill="#00f400"/>
<rect x="84.29" y="538.4" width="3.22" height="2.6" fill="#fa0000"/>
<rect x="88.52" y="539.2" width="3.22" height="1.8" fill="#ffff00"/>
<rect x="91.69" y="538.6" width="3.22" height="2.4" fill="#00f400"/>
<rect x="94.86" y="539" width="3.22" height="2" fill="#fa0000"/>
<rect x="99.09" y="516.2" width="3.22" height="24.8" fill="#ffff00"/>
<rect x="102.26" y="517.6" width="3.22" height="23.4" fill="#00f400"/>
<rect x="105.43" y="516.2" width="3.22" height="24.8" fill="#fa0000"/>
<rect x="109.66" y="539.2" width="3.22" height="1.8" fill="#ffff00"/>
<rect x="112.83" y="538.6" width="3.22" height="2.4" fill="#00f400"/>
<rect x="116" y="539" width="3.22" height="2" fill="#fa0000"/>
<rect x="120.24" y="528.8" width="3.22" height="12.2" fill="#ffff00"/>
<rect x="123.41" y="528" width="3.22" height="13" fill="#00f400"/>
<rect x="126.58" y="529.6" width="3.22" height="11.4" fill="#fa0000"/>
<rect x="130.81" y="539.2" width="3.22" height="1.8" fill="#ffff00"/>
<rect x="133.98" y="538.6" width="3.22" height="2.4" fill="#00f400"/>
<rect x="137.15" y="539" width="3.22" height="2" fill="#fa0000"/>
<rect x="141.38" y="538.4" width="3.22" height="2.6" fill="#ffff00"/>
<rect x="144.55" y="537.8" width="3.22" height="3.2" fill="#00f400"/>
<rect x="147.72" y="538.4" width="3.22" height="2.6" fill="#fa0000"/>
<rect x="151.96" y="539.2" width="3.22" height="1.8" fill="#ffff00"/>
<rect x="155.13" y="538.6" width="3.22" height="2.4" fill="#00f400"/>
<rect x="158.3" y="539" width="3.22" height="2" fill="#fa0000"/>
<rect x="162.53" y="531.4" width="3.22" height="9.6" fill="#ffff00"/>
<rect x="165.7" y="532.2" width="3.22" height="8.8" fill="#00f400"/>
<rect x="168.87" y="530" width="3.22" height="11" fill="#fa0000"/>
<rect x="173.1" y="539.2" width="3.22" height="1.8" fill="#ffff00"/>
<rect x="176.27" y="538.6" width="3.22" height="2.4" fill="#00f400"/>
<rect x="179.44" y="539" width="3.22" height="2" fill="#fa0000"/>
<rect x="183.68" y="533" width="3.22" height="8" fill="#ffff00"/>
<rect x="186.85" y="532.4" width="3.22" height="8.6" fill="#00f400"/>
<rect x="190.02" y="533.6" width="3.22" height="7.4" fill="#fa0000"/>
<rect x="194.25" y="539.2" width="3.22" height="1.8" fill="#ffff00"/>
<rect x="197.42" y="538.6" width="3.22" height="2.4" fill="#00f400"/>
<rect x="200.59" y="539" width="3.22" height="2" fill="#fa0000"/>
<rect x="204.82" y="538.4" width="3.22" height="2.6" fill="#ffff00"/>
<rect x="207.99" y="537.8" width="3.22" height="3.2" fill="#00f400"/>
<rect x="211.16" y="538.4" width="3.22" height="2.6" fill="#fa0000"/>
<rect x="215.39" y="539.2" width="3.22" height="1.8" fill="#ffff00"/>
<rect x="218.56" y="538.6" width="3.22" height="2.4" fill="#00f400"/>
<rect x="221.73" y="539" width="3.22" height="2" fill="#fa0000"/>
<rect x="225.97" y="533.6" width="3.22" height="7.4" fill="#ffff00"/>
<rect x="229.14" y="534.6" width="3.22" height="6.4" fill="#00f400"/>
<rect x="232.31" y="533" width="3.22" height="8" fill="#fa0000"/>
<rect x="236.54" y="539.2" width="3.22" height="1.8" fill="#ffff00"/>
<rect x="239.71" y="538.6" width="3.22" height="2.4" fill="#00f400"/>
<rect x="242.88" y="539" width="3.22" height="2" fill="#fa0000"/>
<rect x="247.11" y="536" width="3.22" height="5" fill="#ffff00"/>
<rect x="250.28" y="534.6" width="3.22" height="6.4" fill="#00f400"/>
<rect x="253.45" y="535.6" width="3.22" height="5.4" fill="#fa0000"/>
<rect x="257.69" y="539.2" width="3.22" height="1.8" fill="#ffff00"/>
<rect x="260.86" y="538.6" width="3.22" height="2.4" fill="#00f400"/>
<rect x="264.03" y="539" width="3.22" height="2" fill="#fa0000"/>
<rect x="268.26" y="538.4" width="3.22" height="2.6" fill="#ffff00"/>
<rect x="271.43" y="537.8" width="3.22" height="3.2" fill="#00f400"/>
<rect x="274.6" y="538.4" width="3.22" height="2.6" fill="#fa0000"/>
<rect x="278.83" y="539.2" width="3.22" height="1.8" fill="#ffff00"/>
<rect x="282" y="538.6" width="3.22" height="2.4" fill="#00f400"/>
<rect x="285.17" y="539" width="3.22" height="2" fill="#fa0000"/>
<rect x="289.41" y="536" width="3.22" height="5" fill="#ffff00"/>
<rect x="292.58" y="536.6" width="3.22" height="4.4" fill="#00f400"/>
<rect x="295.75" y="535.4" width="3.22" height="5.6" fill="#fa0000"/>
<rect x="299.98" y="539.2" width="3.22" height="1.8" fill="#ffff00"/>
<rect x="303.15" y="538.6" width="3.22" height="2.4" fill="#00f400"/>
<rect x="306.32" y="539" width="3.22" height="2" fill="#fa0000"/>
<rect x="310.55" y="537" width="3.22" height="4" fill="#ffff00"/>
<rect x="313.72" y="536" width="3.22" height="5" fill="#00f400"/>
<rect x="316.89" y="537" width="3.22" height="4" fill="#fa0000"/>
<line x1="103.9" y1="424" x2="103.9" y2="515.4" stroke="#202020" stroke-width="1" stroke-dasharray="2 2"/>
<path d="M45.2 541.4 V424 H321.6 V541.4" fill="none" stroke="#202020" stroke-width="1.1"/>
<line x1="44.7" y1="541.5" x2="322.1" y2="541.5" stroke="#101010" stroke-width="1.3"/>
<line x1="42.6" y1="433.8" x2="45.2" y2="433.8" stroke="#202020" stroke-width="1"/>
<line x1="42.6" y1="488" x2="45.2" y2="488" stroke="#202020" stroke-width="1"/>
<line x1="50.5" y1="542.4" x2="50.5" y2="543.6" stroke="#202020" stroke-width="1"/>
<text x="42.6" y="437.2" font-size="10.8" fill="#101010" text-anchor="end" textLength="18.4" lengthAdjust="spacingAndGlyphs">100</text>
<text x="39.4" y="492" font-size="10.8" fill="#101010" text-anchor="end">50</text>
<text x="38.8" y="556.2" font-size="11.4" fill="#101010" textLength="13.8" lengthAdjust="spacingAndGlyphs">DC</text>
<text x="62.3" y="556.2" font-size="11.4" fill="#101010" text-anchor="middle">1</text>
<text x="83.45" y="556.2" font-size="11.4" fill="#101010" text-anchor="middle">3</text>
<text x="104.59" y="556.2" font-size="11.4" fill="#101010" text-anchor="middle">5</text>
<text x="125.74" y="556.2" font-size="11.4" fill="#101010" text-anchor="middle">7</text>
<text x="146.88" y="556.2" font-size="11.4" fill="#101010" text-anchor="middle">9</text>
<text x="168.43" y="556.2" font-size="11.4" fill="#101010" text-anchor="middle">11</text>
<text x="189.58" y="556.2" font-size="11.4" fill="#101010" text-anchor="middle">13</text>
<text x="210.72" y="556.2" font-size="11.4" fill="#101010" text-anchor="middle">15</text>
<text x="231.87" y="556.2" font-size="11.4" fill="#101010" text-anchor="middle">17</text>
<text x="253.01" y="556.2" font-size="11.4" fill="#101010" text-anchor="middle">19</text>
<text x="274.16" y="556.2" font-size="11.4" fill="#101010" text-anchor="middle">21</text>
<text x="295.31" y="556.2" font-size="11.4" fill="#101010" text-anchor="middle">23</text>
<text x="316.45" y="556.2" font-size="11.4" fill="#101010" text-anchor="middle">25</text>
<rect x="325.2" y="548.3" width="12.4" height="7.2" fill="#808080"/>
<path d="M326.2 548.8 l2.6 3.1 l-2.6 3.1 h2.2 l2.6 -3.1 l-2.6 -3.1 Z" fill="#ffff00" stroke="none" stroke-width="1"/>
<path d="M329.5 548.8 l2.6 3.1 l-2.6 3.1 h2.2 l2.6 -3.1 l-2.6 -3.1 Z" fill="#00e000" stroke="none" stroke-width="1"/>
<path d="M332.8 548.8 l2.6 3.1 l-2.6 3.1 h2.2 l2.6 -3.1 l-2.6 -3.1 Z" fill="#f00000" stroke="none" stroke-width="1"/>
<line x1="61.5" y1="542" x2="61.5" y2="544.2" stroke="#202020" stroke-width="0.9"/>
<line x1="72.07" y1="542" x2="72.07" y2="543.2" stroke="#202020" stroke-width="0.9"/>
<line x1="82.65" y1="542" x2="82.65" y2="544.2" stroke="#202020" stroke-width="0.9"/>
<line x1="93.22" y1="542" x2="93.22" y2="543.2" stroke="#202020" stroke-width="0.9"/>
<line x1="103.79" y1="542" x2="103.79" y2="544.2" stroke="#202020" stroke-width="0.9"/>
<line x1="114.36" y1="542" x2="114.36" y2="543.2" stroke="#202020" stroke-width="0.9"/>
<line x1="124.94" y1="542" x2="124.94" y2="544.2" stroke="#202020" stroke-width="0.9"/>
<line x1="135.51" y1="542" x2="135.51" y2="543.2" stroke="#202020" stroke-width="0.9"/>
<line x1="146.08" y1="542" x2="146.08" y2="544.2" stroke="#202020" stroke-width="0.9"/>
<line x1="156.66" y1="542" x2="156.66" y2="543.2" stroke="#202020" stroke-width="0.9"/>
<line x1="167.23" y1="542" x2="167.23" y2="544.2" stroke="#202020" stroke-width="0.9"/>
<line x1="177.8" y1="542" x2="177.8" y2="543.2" stroke="#202020" stroke-width="0.9"/>
<line x1="188.38" y1="542" x2="188.38" y2="544.2" stroke="#202020" stroke-width="0.9"/>
<line x1="198.95" y1="542" x2="198.95" y2="543.2" stroke="#202020" stroke-width="0.9"/>
<line x1="209.52" y1="542" x2="209.52" y2="544.2" stroke="#202020" stroke-width="0.9"/>
<line x1="220.09" y1="542" x2="220.09" y2="543.2" stroke="#202020" stroke-width="0.9"/>
<line x1="230.67" y1="542" x2="230.67" y2="544.2" stroke="#202020" stroke-width="0.9"/>
<line x1="241.24" y1="542" x2="241.24" y2="543.2" stroke="#202020" stroke-width="0.9"/>
<line x1="251.81" y1="542" x2="251.81" y2="544.2" stroke="#202020" stroke-width="0.9"/>
<line x1="262.39" y1="542" x2="262.39" y2="543.2" stroke="#202020" stroke-width="0.9"/>
<line x1="272.96" y1="542" x2="272.96" y2="544.2" stroke="#202020" stroke-width="0.9"/>
<line x1="283.53" y1="542" x2="283.53" y2="543.2" stroke="#202020" stroke-width="0.9"/>
<line x1="294.11" y1="542" x2="294.11" y2="544.2" stroke="#202020" stroke-width="0.9"/>
<line x1="304.68" y1="542" x2="304.68" y2="543.2" stroke="#202020" stroke-width="0.9"/>
<line x1="315.25" y1="542" x2="315.25" y2="544.2" stroke="#202020" stroke-width="0.9"/>
<path d="M331.9 421.6 L338.6 415.2 L345.3 421.6" fill="none" stroke="#000000" stroke-width="1.5" stroke-linejoin="miter"/>
<rect x="329.4" y="423.4" width="18.7" height="72.9" fill="#c4c4c4"/>
<rect x="329" y="422.9" width="19.5" height="14" fill="#ffff00"/>
<text x="338.95" y="434.2" font-size="12" fill="#000000" text-anchor="middle" textLength="12.2" lengthAdjust="spacingAndGlyphs" font-weight="bold" stroke="#000" stroke-width="0.3">3L</text>
<rect x="329" y="438.1" width="19.5" height="14" fill="#808080"/>
<text x="338.95" y="449.4" font-size="12" fill="#000000" text-anchor="middle" textLength="12.2" lengthAdjust="spacingAndGlyphs" font-weight="bold" stroke="#000" stroke-width="0.3">L1</text>
<rect x="329" y="453.3" width="19.5" height="14.3" fill="#808080"/>
<text x="338.95" y="464.75" font-size="12" fill="#000000" text-anchor="middle" textLength="12.2" lengthAdjust="spacingAndGlyphs" font-weight="bold" stroke="#000" stroke-width="0.3">L2</text>
<rect x="329" y="468.8" width="19.5" height="14.3" fill="#808080"/>
<text x="338.95" y="480.25" font-size="12" fill="#000000" text-anchor="middle" textLength="12.2" lengthAdjust="spacingAndGlyphs" font-weight="bold" stroke="#000" stroke-width="0.3">L3</text>
<rect x="329" y="484.4" width="19.5" height="12.4" fill="#808080"/>
<text x="338.95" y="494.9" font-size="12" fill="#000000" text-anchor="middle" textLength="15.6" lengthAdjust="spacingAndGlyphs" font-weight="bold" stroke="#000" stroke-width="0.3">−.+</text>
<path d="M331.9 498.8 L338.6 505.6 L345.3 498.8" fill="none" stroke="#000000" stroke-width="1.5" stroke-linejoin="miter"/>
<path d="M15.6 583.6 V568.6 C27.79 561.73 54.21 561.73 66.4 568.6 V583.6 Z" fill="#808080" stroke="none" stroke-width="1"/>
<text x="42.2" y="581" font-size="15.8" fill="#000" text-anchor="middle" stroke="#000" stroke-width="0.5">V</text>
<path d="M71.8 583.6 V568.6 C83.99 561.73 110.41 561.73 122.6 568.6 V583.6 Z" fill="#ffff00" stroke="none" stroke-width="1"/>
<text x="98.4" y="581" font-size="15.8" fill="#000" text-anchor="middle" stroke="#000" stroke-width="0.5">A</text>
<path d="M127.9 583.6 V568.6 C140.09 561.73 166.51 561.73 178.7 568.6 V583.6 Z" fill="#808080" stroke="none" stroke-width="1"/>
<text x="154.5" y="581" font-size="15.8" fill="#000" text-anchor="middle" stroke="#000" stroke-width="0.5">S</text>
<path d="M183.6 583.6 V568.6 C195.79 561.73 222.21 561.73 234.4 568.6 V583.6 Z" fill="#808080" stroke="none" stroke-width="1"/>
<text x="210.2" y="581" font-size="15.8" fill="#000" text-anchor="middle" stroke="#000" stroke-width="0.5">U</text>
<path d="M239.8 583.6 V568.6 C251.99 561.73 278.41 561.73 290.6 568.6 V583.6 Z" fill="#808080" stroke="none" stroke-width="1"/>
<path d="M295.6 583.6 V568.6 C307.79 561.73 334.21 561.73 346.4 568.6 V583.6 Z" fill="#808080" stroke="none" stroke-width="1"/>
<circle cx="328.6" cy="574" r="5.8" fill="none" stroke="#000" stroke-width="1.0"/>
<line x1="325.8" y1="574" x2="331.4" y2="574" stroke="#000" stroke-width="1.5"/>
<line x1="328.6" y1="571.2" x2="328.6" y2="576.8" stroke="#000" stroke-width="1.5"/>
<line x1="317.6" y1="578.2" x2="323.4" y2="576.2" stroke="#000" stroke-width="2.2"/>
<line x1="313" y1="579.9" x2="319.1" y2="577.6" stroke="#000" stroke-width="3.8" stroke-linecap="round"/>
<text x="449" y="330.6" font-size="18.2" fill="#0a0a12" textLength="36.6" lengthAdjust="spacing" font-family='"Liberation Serif", "Noto Serif CJK SC", serif'>开启</text>
<text x="491" y="330.2" font-size="20.5" fill="#0a0a12" textLength="26.6" lengthAdjust="spacingAndGlyphs" font-family='"Liberation Serif", "Noto Serif CJK SC", serif'>APF</text>
<text x="525" y="330.6" font-size="18.2" fill="#0a0a12" textLength="17.8" lengthAdjust="spacing" font-family='"Liberation Serif", "Noto Serif CJK SC", serif'>后</text>
<text x="547.3" y="330.2" font-size="20.5" fill="#0a0a12" textLength="7.6" lengthAdjust="spacingAndGlyphs" font-family='"Liberation Serif", "Noto Serif CJK SC", serif'>5</text>
<text x="561.6" y="330.6" font-size="18.2" fill="#0a0a12" textLength="73.8" lengthAdjust="spacing" font-family='"Liberation Serif", "Noto Serif CJK SC", serif'>次频谱图</text>
<text x="385.1" y="366.1" font-size="16.4" fill="#101010" textLength="50" lengthAdjust="spacingAndGlyphs" stroke="#101010" stroke-width="0.3">A–h05</text>
<ellipse cx="445.8" cy="360.9" rx="7.7" ry="8.2" fill="#ffffff" stroke="#ffff00" stroke-width="1.7"/>
<text x="445.8" y="364.5" font-size="10" fill="#303030" text-anchor="middle">1</text>
<text x="498.1" y="366.1" font-size="16.2" fill="#101010" text-anchor="end" stroke="#101010" stroke-width="0.6">2.1</text>
<text x="501.5" y="366.1" font-size="10.5" fill="#101010" textLength="14.2" lengthAdjust="spacingAndGlyphs" font-weight="bold">%f</text>
<text x="498.5" y="387.1" font-size="16.2" fill="#101010" text-anchor="end" stroke="#101010" stroke-width="0.6">8.3</text>
<text x="509.5" y="387.7" font-size="10.4" fill="#101010" font-weight="bold">A</text>
<text x="469.3" y="403.5" font-size="10.6" fill="#101010" textLength="30.6" lengthAdjust="spacingAndGlyphs" font-weight="bold">−165°</text>
<ellipse cx="537.8" cy="360.9" rx="7.7" ry="8.2" fill="#ffffff" stroke="#00f400" stroke-width="1.7"/>
<text x="537.8" y="364.5" font-size="10" fill="#303030" text-anchor="middle">2</text>
<text x="591.1" y="366.1" font-size="16.2" fill="#101010" text-anchor="end" stroke="#101010" stroke-width="0.6">2.0</text>
<text x="592.9" y="366.1" font-size="10.5" fill="#101010" textLength="14.2" lengthAdjust="spacingAndGlyphs" font-weight="bold">%f</text>
<text x="591.5" y="387.1" font-size="16.2" fill="#101010" text-anchor="end" stroke="#101010" stroke-width="0.6">8.3</text>
<text x="602.5" y="387.7" font-size="10.4" fill="#101010" font-weight="bold">A</text>
<text x="562.3" y="403.5" font-size="10.6" fill="#101010" textLength="30.6" lengthAdjust="spacingAndGlyphs" font-weight="bold">+154°</text>
<ellipse cx="629.7" cy="360.9" rx="7.7" ry="8.2" fill="#ffffff" stroke="#fa0000" stroke-width="1.7"/>
<text x="629.7" y="364.5" font-size="10" fill="#303030" text-anchor="middle">3</text>
<text x="682.9" y="366.1" font-size="16.2" fill="#101010" text-anchor="end" stroke="#101010" stroke-width="0.6">2.1</text>
<text x="684.7" y="366.1" font-size="10.5" fill="#101010" textLength="14.2" lengthAdjust="spacingAndGlyphs" font-weight="bold">%f</text>
<text x="683.3" y="387.1" font-size="16.2" fill="#101010" text-anchor="end" stroke="#101010" stroke-width="0.6">8.4</text>
<text x="694.3" y="387.7" font-size="10.4" fill="#101010" font-weight="bold">A</text>
<text x="654.1" y="403.5" font-size="10.6" fill="#101010" textLength="30.6" lengthAdjust="spacingAndGlyphs" font-weight="bold">−175°</text>
<text x="389.9" y="422.3" font-size="10.2" fill="#101010">%</text>
<path d="M461 419.2 l3.2 -2.2 l3.2 2.2 l-3.2 2.2 Z" fill="#fff" stroke="#303030" stroke-width="0.7"/>
<rect x="417.3" y="434.4" width="3.22" height="107.5" fill="#ffff00"/>
<rect x="420.47" y="434.4" width="3.22" height="107.5" fill="#00f400"/>
<rect x="423.64" y="434.4" width="3.22" height="107.5" fill="#fa0000"/>
<rect x="427.87" y="537.5" width="3.22" height="4.4" fill="#ffff00"/>
<rect x="431.04" y="538.5" width="3.22" height="3.4" fill="#00f400"/>
<rect x="434.21" y="536.9" width="3.22" height="5" fill="#fa0000"/>
<rect x="438.45" y="539.3" width="3.22" height="2.6" fill="#ffff00"/>
<rect x="441.62" y="539.1" width="3.22" height="2.8" fill="#00f400"/>
<rect x="444.79" y="538.5" width="3.22" height="3.4" fill="#fa0000"/>
<rect x="449.02" y="539.3" width="3.22" height="2.6" fill="#ffff00"/>
<rect x="452.19" y="539.2" width="3.22" height="2.7" fill="#00f400"/>
<rect x="455.36" y="539.1" width="3.22" height="2.8" fill="#fa0000"/>
<rect x="459.59" y="539.8" width="3.22" height="2.1" fill="#ffff00"/>
<rect x="462.76" y="539.2" width="3.22" height="2.7" fill="#00f400"/>
<rect x="465.93" y="539" width="3.22" height="2.9" fill="#fa0000"/>
<rect x="470.17" y="538.8" width="3.22" height="3.1" fill="#ffff00"/>
<rect x="473.34" y="539.9" width="3.22" height="2" fill="#00f400"/>
<rect x="476.5" y="539.6" width="3.22" height="2.3" fill="#fa0000"/>
<rect x="480.74" y="539.9" width="3.22" height="2" fill="#ffff00"/>
<rect x="483.91" y="538.7" width="3.22" height="3.2" fill="#00f400"/>
<rect x="487.08" y="538.9" width="3.22" height="3" fill="#fa0000"/>
<rect x="491.31" y="540" width="3.22" height="1.9" fill="#ffff00"/>
<rect x="494.48" y="538.4" width="3.22" height="3.5" fill="#00f400"/>
<rect x="497.65" y="538.5" width="3.22" height="3.4" fill="#fa0000"/>
<rect x="501.88" y="539" width="3.22" height="2.9" fill="#ffff00"/>
<rect x="505.05" y="539.1" width="3.22" height="2.8" fill="#00f400"/>
<rect x="508.22" y="539.8" width="3.22" height="2.1" fill="#fa0000"/>
<rect x="512.46" y="540.1" width="3.22" height="1.8" fill="#ffff00"/>
<rect x="515.63" y="539.2" width="3.22" height="2.7" fill="#00f400"/>
<rect x="518.8" y="540" width="3.22" height="1.9" fill="#fa0000"/>
<rect x="523.03" y="539.8" width="3.22" height="2.1" fill="#ffff00"/>
<rect x="526.2" y="539.7" width="3.22" height="2.2" fill="#00f400"/>
<rect x="529.37" y="540" width="3.22" height="1.9" fill="#fa0000"/>
<rect x="533.6" y="539.3" width="3.22" height="2.6" fill="#ffff00"/>
<rect x="536.77" y="539.4" width="3.22" height="2.5" fill="#00f400"/>
<rect x="539.94" y="538.7" width="3.22" height="3.2" fill="#fa0000"/>
<rect x="544.18" y="539.2" width="3.22" height="2.7" fill="#ffff00"/>
<rect x="547.35" y="539" width="3.22" height="2.9" fill="#00f400"/>
<rect x="550.52" y="539.3" width="3.22" height="2.6" fill="#fa0000"/>
<rect x="554.75" y="539" width="3.22" height="2.9" fill="#ffff00"/>
<rect x="557.92" y="539.3" width="3.22" height="2.6" fill="#00f400"/>
<rect x="561.09" y="539.6" width="3.22" height="2.3" fill="#fa0000"/>
<rect x="565.32" y="538.4" width="3.22" height="3.5" fill="#ffff00"/>
<rect x="568.49" y="538.4" width="3.22" height="3.5" fill="#00f400"/>
<rect x="571.66" y="538.7" width="3.22" height="3.2" fill="#fa0000"/>
<rect x="575.89" y="538.9" width="3.22" height="3" fill="#ffff00"/>
<rect x="579.06" y="539.6" width="3.22" height="2.3" fill="#00f400"/>
<rect x="582.24" y="539.7" width="3.22" height="2.2" fill="#fa0000"/>
<rect x="586.47" y="539.6" width="3.22" height="2.3" fill="#ffff00"/>
<rect x="589.64" y="540" width="3.22" height="1.9" fill="#00f400"/>
<rect x="592.81" y="538.8" width="3.22" height="3.1" fill="#fa0000"/>
<rect x="597.04" y="539.4" width="3.22" height="2.5" fill="#ffff00"/>
<rect x="600.21" y="538.7" width="3.22" height="3.2" fill="#00f400"/>
<rect x="603.38" y="539.4" width="3.22" height="2.5" fill="#fa0000"/>
<rect x="607.61" y="538.5" width="3.22" height="3.4" fill="#ffff00"/>
<rect x="610.78" y="538.7" width="3.22" height="3.2" fill="#00f400"/>
<rect x="613.95" y="540.1" width="3.22" height="1.8" fill="#fa0000"/>
<rect x="618.19" y="539.7" width="3.22" height="2.2" fill="#ffff00"/>
<rect x="621.36" y="538.6" width="3.22" height="3.3" fill="#00f400"/>
<rect x="624.53" y="539.3" width="3.22" height="2.6" fill="#fa0000"/>
<rect x="628.76" y="538.4" width="3.22" height="3.5" fill="#ffff00"/>
<rect x="631.93" y="539.4" width="3.22" height="2.5" fill="#00f400"/>
<rect x="635.1" y="540" width="3.22" height="1.9" fill="#fa0000"/>
<rect x="639.33" y="539" width="3.22" height="2.9" fill="#ffff00"/>
<rect x="642.5" y="538.8" width="3.22" height="3.1" fill="#00f400"/>
<rect x="645.67" y="539.6" width="3.22" height="2.3" fill="#fa0000"/>
<rect x="649.91" y="540" width="3.22" height="1.9" fill="#ffff00"/>
<rect x="653.08" y="539.5" width="3.22" height="2.4" fill="#00f400"/>
<rect x="656.25" y="538.5" width="3.22" height="3.4" fill="#fa0000"/>
<rect x="660.48" y="538.8" width="3.22" height="3.1" fill="#ffff00"/>
<rect x="663.65" y="539.9" width="3.22" height="2" fill="#00f400"/>
<rect x="666.82" y="539.7" width="3.22" height="2.2" fill="#fa0000"/>
<rect x="671.05" y="539.9" width="3.22" height="2" fill="#ffff00"/>
<rect x="674.22" y="540" width="3.22" height="1.9" fill="#00f400"/>
<rect x="677.39" y="538.7" width="3.22" height="3.2" fill="#fa0000"/>
<line x1="464.4" y1="424.9" x2="464.4" y2="538.3" stroke="#202020" stroke-width="1" stroke-dasharray="2 2"/>
<path d="M405.7 542.3 V424.9 H682.1 V542.3" fill="none" stroke="#202020" stroke-width="1.1"/>
<line x1="405.2" y1="542.4" x2="682.6" y2="542.4" stroke="#101010" stroke-width="1.3"/>
<line x1="403.1" y1="434.7" x2="405.7" y2="434.7" stroke="#202020" stroke-width="1"/>
<line x1="403.1" y1="488.9" x2="405.7" y2="488.9" stroke="#202020" stroke-width="1"/>
<line x1="411" y1="543.3" x2="411" y2="544.5" stroke="#202020" stroke-width="1"/>
<text x="403.1" y="438.1" font-size="10.8" fill="#101010" text-anchor="end" textLength="18.4" lengthAdjust="spacingAndGlyphs">100</text>
<text x="399.9" y="492.9" font-size="10.8" fill="#101010" text-anchor="end">50</text>
<text x="399.3" y="557.1" font-size="11.4" fill="#101010" textLength="13.8" lengthAdjust="spacingAndGlyphs">DC</text>
<text x="422.8" y="557.1" font-size="11.4" fill="#101010" text-anchor="middle">1</text>
<text x="443.95" y="557.1" font-size="11.4" fill="#101010" text-anchor="middle">3</text>
<text x="465.09" y="557.1" font-size="11.4" fill="#101010" text-anchor="middle">5</text>
<text x="486.24" y="557.1" font-size="11.4" fill="#101010" text-anchor="middle">7</text>
<text x="507.38" y="557.1" font-size="11.4" fill="#101010" text-anchor="middle">9</text>
<text x="528.93" y="557.1" font-size="11.4" fill="#101010" text-anchor="middle">11</text>
<text x="550.08" y="557.1" font-size="11.4" fill="#101010" text-anchor="middle">13</text>
<text x="571.22" y="557.1" font-size="11.4" fill="#101010" text-anchor="middle">15</text>
<text x="592.37" y="557.1" font-size="11.4" fill="#101010" text-anchor="middle">17</text>
<text x="613.51" y="557.1" font-size="11.4" fill="#101010" text-anchor="middle">19</text>
<text x="634.66" y="557.1" font-size="11.4" fill="#101010" text-anchor="middle">21</text>
<text x="655.81" y="557.1" font-size="11.4" fill="#101010" text-anchor="middle">23</text>
<text x="676.95" y="557.1" font-size="11.4" fill="#101010" text-anchor="middle">25</text>
<rect x="685.7" y="549.2" width="12.4" height="7.2" fill="#808080"/>
<path d="M686.7 549.7 l2.6 3.1 l-2.6 3.1 h2.2 l2.6 -3.1 l-2.6 -3.1 Z" fill="#ffff00" stroke="none" stroke-width="1"/>
<path d="M690 549.7 l2.6 3.1 l-2.6 3.1 h2.2 l2.6 -3.1 l-2.6 -3.1 Z" fill="#00e000" stroke="none" stroke-width="1"/>
<path d="M693.3 549.7 l2.6 3.1 l-2.6 3.1 h2.2 l2.6 -3.1 l-2.6 -3.1 Z" fill="#f00000" stroke="none" stroke-width="1"/>
<line x1="422" y1="542.9" x2="422" y2="545.1" stroke="#202020" stroke-width="0.9"/>
<line x1="432.57" y1="542.9" x2="432.57" y2="544.1" stroke="#202020" stroke-width="0.9"/>
<line x1="443.15" y1="542.9" x2="443.15" y2="545.1" stroke="#202020" stroke-width="0.9"/>
<line x1="453.72" y1="542.9" x2="453.72" y2="544.1" stroke="#202020" stroke-width="0.9"/>
<line x1="464.29" y1="542.9" x2="464.29" y2="545.1" stroke="#202020" stroke-width="0.9"/>
<line x1="474.87" y1="542.9" x2="474.87" y2="544.1" stroke="#202020" stroke-width="0.9"/>
<line x1="485.44" y1="542.9" x2="485.44" y2="545.1" stroke="#202020" stroke-width="0.9"/>
<line x1="496.01" y1="542.9" x2="496.01" y2="544.1" stroke="#202020" stroke-width="0.9"/>
<line x1="506.58" y1="542.9" x2="506.58" y2="545.1" stroke="#202020" stroke-width="0.9"/>
<line x1="517.16" y1="542.9" x2="517.16" y2="544.1" stroke="#202020" stroke-width="0.9"/>
<line x1="527.73" y1="542.9" x2="527.73" y2="545.1" stroke="#202020" stroke-width="0.9"/>
<line x1="538.3" y1="542.9" x2="538.3" y2="544.1" stroke="#202020" stroke-width="0.9"/>
<line x1="548.88" y1="542.9" x2="548.88" y2="545.1" stroke="#202020" stroke-width="0.9"/>
<line x1="559.45" y1="542.9" x2="559.45" y2="544.1" stroke="#202020" stroke-width="0.9"/>
<line x1="570.02" y1="542.9" x2="570.02" y2="545.1" stroke="#202020" stroke-width="0.9"/>
<line x1="580.6" y1="542.9" x2="580.6" y2="544.1" stroke="#202020" stroke-width="0.9"/>
<line x1="591.17" y1="542.9" x2="591.17" y2="545.1" stroke="#202020" stroke-width="0.9"/>
<line x1="601.74" y1="542.9" x2="601.74" y2="544.1" stroke="#202020" stroke-width="0.9"/>
<line x1="612.31" y1="542.9" x2="612.31" y2="545.1" stroke="#202020" stroke-width="0.9"/>
<line x1="622.89" y1="542.9" x2="622.89" y2="544.1" stroke="#202020" stroke-width="0.9"/>
<line x1="633.46" y1="542.9" x2="633.46" y2="545.1" stroke="#202020" stroke-width="0.9"/>
<line x1="644.03" y1="542.9" x2="644.03" y2="544.1" stroke="#202020" stroke-width="0.9"/>
<line x1="654.61" y1="542.9" x2="654.61" y2="545.1" stroke="#202020" stroke-width="0.9"/>
<line x1="665.18" y1="542.9" x2="665.18" y2="544.1" stroke="#202020" stroke-width="0.9"/>
<line x1="675.75" y1="542.9" x2="675.75" y2="545.1" stroke="#202020" stroke-width="0.9"/>
<path d="M692.4 422.5 L699.1 416.1 L705.8 422.5" fill="none" stroke="#000000" stroke-width="1.5" stroke-linejoin="miter"/>
<rect x="689.9" y="424.3" width="18.7" height="72.9" fill="#c4c4c4"/>
<rect x="689.5" y="423.8" width="19.5" height="14" fill="#ffff00"/>
<text x="699.45" y="435.1" font-size="12" fill="#000000" text-anchor="middle" textLength="12.2" lengthAdjust="spacingAndGlyphs" font-weight="bold" stroke="#000" stroke-width="0.3">3L</text>
<rect x="689.5" y="439" width="19.5" height="14" fill="#808080"/>
<text x="699.45" y="450.3" font-size="12" fill="#000000" text-anchor="middle" textLength="12.2" lengthAdjust="spacingAndGlyphs" font-weight="bold" stroke="#000" stroke-width="0.3">L1</text>
<rect x="689.5" y="454.2" width="19.5" height="14.3" fill="#808080"/>
<text x="699.45" y="465.65" font-size="12" fill="#000000" text-anchor="middle" textLength="12.2" lengthAdjust="spacingAndGlyphs" font-weight="bold" stroke="#000" stroke-width="0.3">L2</text>
<rect x="689.5" y="469.7" width="19.5" height="14.3" fill="#808080"/>
<text x="699.45" y="481.15" font-size="12" fill="#000000" text-anchor="middle" textLength="12.2" lengthAdjust="spacingAndGlyphs" font-weight="bold" stroke="#000" stroke-width="0.3">L3</text>
<rect x="689.5" y="485.3" width="19.5" height="12.4" fill="#808080"/>
<text x="699.45" y="495.8" font-size="12" fill="#000000" text-anchor="middle" textLength="15.6" lengthAdjust="spacingAndGlyphs" font-weight="bold" stroke="#000" stroke-width="0.3">−.+</text>
<path d="M692.4 499.7 L699.1 506.5 L705.8 499.7" fill="none" stroke="#000000" stroke-width="1.5" stroke-linejoin="miter"/>
<path d="M376.1 584.5 V569.5 C388.29 562.63 414.71 562.63 426.9 569.5 V584.5 Z" fill="#808080" stroke="none" stroke-width="1"/>
<text x="402.7" y="581.9" font-size="15.8" fill="#000" text-anchor="middle" stroke="#000" stroke-width="0.5">V</text>
<path d="M432.3 584.5 V569.5 C444.49 562.63 470.91 562.63 483.1 569.5 V584.5 Z" fill="#ffff00" stroke="none" stroke-width="1"/>
<text x="458.9" y="581.9" font-size="15.8" fill="#000" text-anchor="middle" stroke="#000" stroke-width="0.5">A</text>
<path d="M488.4 584.5 V569.5 C500.59 562.63 527.01 562.63 539.2 569.5 V584.5 Z" fill="#808080" stroke="none" stroke-width="1"/>
<text x="515" y="581.9" font-size="15.8" fill="#000" text-anchor="middle" stroke="#000" stroke-width="0.5">S</text>
<path d="M544.1 584.5 V569.5 C556.29 562.63 582.71 562.63 594.9 569.5 V584.5 Z" fill="#808080" stroke="none" stroke-width="1"/>
<text x="570.7" y="581.9" font-size="15.8" fill="#000" text-anchor="middle" stroke="#000" stroke-width="0.5">U</text>
<path d="M600.3 584.5 V569.5 C612.49 562.63 638.91 562.63 651.1 569.5 V584.5 Z" fill="#808080" stroke="none" stroke-width="1"/>
<path d="M656.1 584.5 V569.5 C668.29 562.63 694.71 562.63 706.9 569.5 V584.5 Z" fill="#808080" stroke="none" stroke-width="1"/>
<circle cx="689.1" cy="574.9" r="5.8" fill="none" stroke="#000" stroke-width="1.0"/>
<line x1="686.3" y1="574.9" x2="691.9" y2="574.9" stroke="#000" stroke-width="1.5"/>
<line x1="689.1" y1="572.1" x2="689.1" y2="577.7" stroke="#000" stroke-width="1.5"/>
<line x1="678.1" y1="579.1" x2="683.9" y2="577.1" stroke="#000" stroke-width="2.2"/>
<line x1="673.5" y1="580.8" x2="679.6" y2="578.5" stroke="#000" stroke-width="3.8" stroke-linecap="round"/>
</svg>
</body>
</html>
